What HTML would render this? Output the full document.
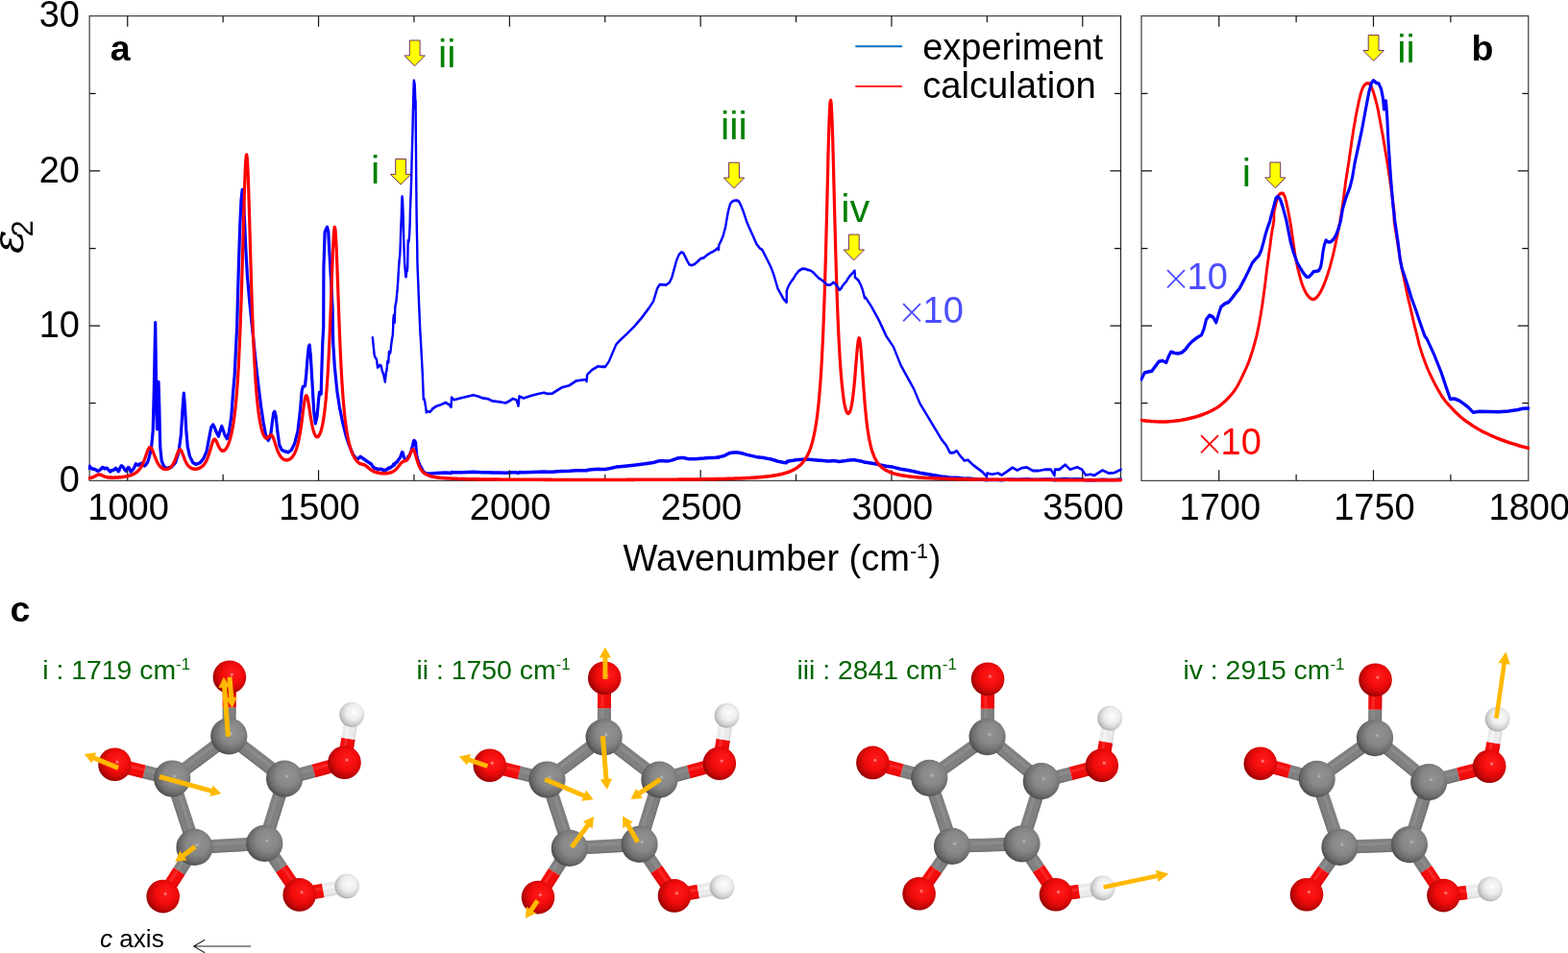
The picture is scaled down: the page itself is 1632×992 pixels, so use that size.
<!DOCTYPE html>
<html><head><meta charset="utf-8"><title>Figure</title>
<style>html,body{margin:0;padding:0;background:#fff}svg{display:block}</style></head>
<body>
<svg width="1632" height="992" viewBox="0 0 1632 992" font-family="'Liberation Sans', sans-serif">
<rect width="1632" height="992" fill="#ffffff"/>
<path d="M1166.45 16.70H93.15V500.35H1166.45" fill="none" stroke="#444444" stroke-width="1.25"/><path d="M1166.55 16.10V500.95" fill="none" stroke="#1a1a1a" stroke-width="1.05"/>
<path d="M1590.80 16.70H1188.00V500.35H1590.80" fill="none" stroke="#444444" stroke-width="1.25"/><path d="M1590.80 16.10V500.95" fill="none" stroke="#2a2a2a" stroke-width="1.1"/>
<path d="M1268.75 500.35v-11M1268.75 16.70v11M1429.50 500.35v-11M1429.50 16.70v11M1349.12 500.35v-6.5M1349.12 16.70v6.5M1509.88 500.35v-6.5M1509.88 16.70v6.5M1188.00 339.10h11M1590.80 339.10h-11M1188.00 177.95h11M1590.80 177.95h-11M1188.00 419.68h6.5M1590.80 419.68h-6.5M1188.00 258.53h6.5M1590.80 258.53h-6.5M1188.00 97.38h6.5M1590.80 97.38h-6.5" fill="none" stroke="#111" stroke-width="1.2"/>
<clipPath id="ca"><rect x="91.9" y="16.7" width="1075.9" height="485.7"/></clipPath>
<clipPath id="cb"><rect x="1186.7" y="16.7" width="405.4" height="485.7"/></clipPath>
<g clip-path="url(#ca)">
<path d="M91.3 443.56 L92.2 443.18 L93.4 441.14 L94.7 443.18 L96.3 443.56 L98.0 443.94 L100.1 444.70 L101.3 445.61 L102.6 445.45 L104.7 444.32 L105.9 442.80 L107.2 442.27 L108.8 443.56 L110.1 443.03 L111.3 443.03 L113.0 444.70 L114.7 446.36 L115.9 445.45 L116.8 445.08 L119.2 444.32 L120.5 443.03 L122.2 444.70 L123.0 446.06 L123.8 445.83 L125.1 442.42 L126.3 440.76 L128.0 441.67 L129.7 444.32 L130.9 445.61 L131.3 445.08 L133.4 442.27 L134.7 443.18 L135.9 446.36 L137.2 445.45 L138.8 443.94 L140.5 440.91 L141.3 439.02 L142.2 439.39 L143.8 440.30 L145.5 439.02 L147.2 438.48 L148.8 440.15 L150.5 440.91 L152.2 439.39 L153.8 437.12 L155.0 433.33 L157.5 424.24 L159.2 407.58 L160.3 369.70 L161.2 327.27 L161.7 305.30 L162.2 339.39 L162.8 384.85 L163.5 406.06 L164.3 384.85 L165.0 361.36 L165.8 384.85 L166.7 422.73 L168.3 436.36 L170.8 441.67 L173.3 443.18 L178.3 442.12 L182.5 437.88 L185.8 428.79 L188.3 412.12 L190.0 387.88 L191.3 371.97 L192.5 384.85 L193.7 406.06 L195.3 422.73 L197.5 431.82 L200.8 437.88 L204.2 439.39 L208.3 437.88 L211.7 434.09 L215.0 427.27 L217.5 415.15 L219.7 404.55 L221.7 401.82 L223.3 404.55 L225.3 409.09 L227.5 412.88 L229.2 407.58 L230.8 403.33 L232.5 407.58 L234.2 412.12 L236.3 415.15 L238.3 409.09 L240.8 393.94 L242.5 372.73 L244.2 354.55 L245.8 324.24 L246.7 309.09 L247.4 282.97 L248.6 246.32 L249.8 213.33 L251.0 189.51 L252.2 179.43 L253.4 189.51 L254.6 209.67 L255.8 235.32 L257.4 260.98 L259.5 282.97 L261.5 301.29 L266.7 346.97 L269.2 366.67 L271.7 384.85 L274.2 400.00 L276.7 412.12 L279.2 416.67 L281.7 412.12 L283.3 400.00 L284.7 390.91 L285.8 389.39 L287.2 393.94 L288.7 407.58 L290.8 421.21 L293.3 425.76 L296.7 427.27 L300.0 428.03 L303.3 425.76 L306.7 419.70 L310.0 407.58 L312.5 387.88 L314.2 369.70 L315.3 365.91 L317.5 365.15 L318.7 354.55 L320.0 339.39 L321.3 328.03 L322.2 326.52 L323.3 336.36 L325.0 362.12 L326.7 389.39 L328.3 400.76 L330.0 393.94 L331.7 377.27 L332.5 371.21 L334.2 372.73 L334.7 354.55 L335.8 324.24 L336.7 309.09 L336.9 253.65 L338.1 219.74 L339.3 217.00 L340.5 214.80 L341.7 218.83 L342.9 238.99 L344.5 264.64 L346.1 292.13 L346.7 324.24 L348.3 346.97 L350.8 369.70 L353.3 384.85 L356.7 400.00 L360.0 412.12 L363.3 421.21 L367.5 430.30 L371.7 434.85 L375.0 432.12 L378.3 434.09 L381.7 436.36 L386.7 439.39 L387.8 441.23 L388.7 442.02 L389.7 442.93 L390.8 443.16 L392.0 443.31 L393.0 444.07 L394.2 443.99 L395.3 443.84 L396.7 443.92 L397.5 444.30 L399.2 444.75 L400.8 445.43 L401.9 444.48 L402.4 444.41 L402.9 443.95 L403.3 443.50 L403.8 443.43 L404.3 443.61 L404.6 443.05 L404.9 442.59 L405.4 442.70 L405.8 442.75 L406.3 442.66 L406.7 442.36 L407.2 441.91 L407.7 441.57 L408.3 441.23 L408.8 441.00 L409.1 440.43 L409.4 439.52 L409.8 439.14 L410.3 439.30 L410.7 439.82 L411.0 439.07 L411.3 438.34 L411.8 438.05 L412.3 437.89 L412.8 437.48 L413.2 437.02 L413.7 436.61 L414.3 435.77 L414.8 435.00 L415.4 434.16 L415.8 433.77 L416.2 433.49 L416.5 432.99 L416.8 432.21 L417.1 431.32 L417.4 430.65 L417.6 430.20 L417.7 430.09 L418.0 429.07 L418.4 428.05 L418.6 427.89 L419.0 428.16 L419.3 428.84 L419.8 430.20 L420.0 431.10 L420.3 432.21 L420.7 433.21 L421.1 434.10 L421.6 434.72 L422.0 435.16 L422.3 435.50 L422.6 435.50 L422.9 435.27 L423.2 435.00 L423.6 434.96 L423.9 434.91 L424.2 434.55 L424.3 433.99 L424.5 433.10 L424.6 432.43 L424.8 432.04 L425.1 432.21 L425.4 432.19 L425.8 431.93 L426.1 431.54 L426.4 430.98 L426.7 430.20 L427.0 429.07 L427.5 427.93 L427.9 427.02 L428.2 426.11 L428.5 424.75 L429.0 423.16 L429.5 421.57 L429.9 419.75 L430.4 417.93 L430.7 417.14 L430.9 416.91 L431.3 417.14 L431.6 417.20 L431.9 417.70 L432.2 418.61 L432.3 419.64 L432.6 418.84 L432.7 420.43 L432.9 422.70 L433.2 426.11 L433.5 428.84 L433.7 430.20 L433.9 431.32 L434.2 432.43 L434.4 433.88 L434.6 434.66 L434.9 435.33 L435.4 436.33 L435.8 437.45 L436.4 438.67 L437.0 440.01 L437.6 441.11 L437.8 441.34 L438.7 442.82 L439.7 444.52 L440.3 445.89 L440.8 447.07 L441.4 447.02 L442.0 447.20 L442.6 447.52 L443.2 447.89 L443.8 448.32 L444.6 448.23 L445.9 448.25 L447.1 448.27 L448.3 448.20 L449.6 448.07 L450.2 447.95 L451.0 447.93 L453.8 447.75 L458.8 447.59 L463.8 447.39 L467.5 447.59 L469.5 447.82 L470.0 446.91 L472.5 447.14 L480.0 446.95 L487.5 446.80 L492.5 446.68 L497.5 446.80 L502.5 446.98 L507.5 447.02 L512.5 447.25 L520.0 447.32 L526.2 447.43 L530.0 447.25 L533.8 447.02 L537.5 447.14 L539.5 447.70 L540.5 446.80 L545.0 446.98 L552.5 446.75 L560.0 446.57 L566.2 446.45 L570.0 446.57 L575.0 446.52 L580.0 446.23 L585.0 445.95 L592.5 445.77 L600.0 445.32 L610.0 445.20 L610.5 445.39 L611.2 444.75 L616.2 444.30 L622.5 443.95 L626.2 444.00 L630.0 444.00 L633.8 443.50 L637.5 442.70 L641.2 441.91 L645.0 441.52 L652.5 440.89 L660.0 440.20 L667.5 439.41 L675.0 438.50 L680.0 437.82 L684.2 436.57 L686.7 436.22 L690.0 436.23 L693.3 436.27 L696.7 436.04 L699.2 435.58 L701.7 434.75 L704.2 433.92 L706.7 433.39 L709.2 433.16 L711.3 433.23 L713.3 433.61 L715.8 434.07 L717.5 434.34 L720.0 434.40 L723.3 434.27 L726.7 433.99 L729.2 433.77 L732.5 433.69 L735.8 433.43 L739.2 433.23 L742.5 433.08 L745.0 432.93 L746.7 432.78 L748.0 432.93 L748.3 432.48 L750.0 432.17 L752.5 431.64 L755.0 430.81 L756.7 429.90 L758.3 429.14 L760.0 428.61 L761.7 428.39 L764.2 428.28 L767.5 428.27 L769.2 428.39 L771.7 428.84 L774.2 429.45 L777.5 430.36 L780.8 431.04 L784.2 431.72 L787.5 432.40 L790.8 432.78 L793.3 432.93 L795.8 433.39 L799.2 433.99 L802.5 434.60 L805.0 435.20 L807.5 435.96 L809.7 436.64 L812.5 437.10 L815.8 437.63 L818.7 437.90 L818.8 436.80 L820.8 436.34 L823.3 435.96 L825.8 435.66 L828.3 435.28 L831.7 434.90 L835.0 434.72 L839.2 434.75 L840.0 434.82 L842.4 434.86 L844.8 434.95 L847.3 435.15 L849.7 435.39 L851.7 435.57 L854.1 435.72 L856.9 435.92 L859.4 436.12 L861.0 436.25 L862.6 436.27 L864.2 436.25 L865.8 436.14 L867.4 436.01 L869.0 436.12 L870.6 436.29 L872.3 436.51 L873.5 436.73 L874.3 436.69 L875.5 436.58 L877.1 436.33 L878.7 436.14 L880.7 435.96 L882.3 435.70 L885.2 435.34 L887.6 435.12 L889.5 434.91 L889.8 435.23 L890.0 435.56 L891.6 435.67 L893.6 435.85 L896.0 436.29 L897.7 436.69 L900.0 437.50 L901.2 437.48 L907.5 438.39 L915.0 439.64 L922.5 441.11 L930.0 442.14 L937.5 443.84 L945.0 445.09 L951.2 446.11 L957.5 447.48 L965.0 448.61 L972.5 449.75 L980.0 450.89 L985.0 451.45 L988.8 452.14 L992.5 452.14 L995.8 451.95 L998.8 452.36 L1003.8 452.89 L1007.5 452.82 L1012.5 453.27 L1017.5 453.61 L1022.5 453.95 L1027.0 454.41 L1027.5 454.07 L1032.5 454.18 L1038.8 454.07 L1042.5 454.25 L1047.5 453.95 L1053.8 453.55 L1058.8 453.80 L1063.8 453.57 L1068.8 453.52 L1075.0 453.84 L1081.2 453.84 L1087.5 453.73 L1093.8 453.73 L1097.5 454.30 L1098.0 453.73 L1102.5 453.73 L1108.8 453.27 L1113.8 453.73 L1121.2 453.50 L1126.2 453.73 L1130.0 454.25 L1135.0 454.18 L1138.8 454.30 L1147.5 453.80 L1153.8 454.07 L1160.0 454.02 L1166.8 453.73" fill="none" stroke="#0000ff" stroke-width="3.2" stroke-linejoin="round" stroke-linecap="round" transform="scale(1,1.100)" />
<path d="M132.75 500.35v-11M132.75 16.70v11M331.55 500.35v-11M331.55 16.70v11M530.35 500.35v-11M530.35 16.70v11M729.15 500.35v-11M729.15 16.70v11M927.95 500.35v-11M927.95 16.70v11M1126.75 500.35v-11M1126.75 16.70v11M232.15 500.35v-6.5M232.15 16.70v6.5M430.95 500.35v-6.5M430.95 16.70v6.5M629.75 500.35v-6.5M629.75 16.70v6.5M828.55 500.35v-6.5M828.55 16.70v6.5M1027.35 500.35v-6.5M1027.35 16.70v6.5M93.15 339.10h11M1166.45 339.10h-11M93.15 177.95h11M1166.45 177.95h-11M93.15 419.68h6.5M1166.45 419.68h-6.5M93.15 258.53h6.5M1166.45 258.53h-6.5M93.15 97.38h6.5M1166.45 97.38h-6.5" fill="none" stroke="#111" stroke-width="1.2"/>
<path d="M93.0 452.43 L93.4 452.36 L93.8 452.28 L94.2 452.20 L94.6 452.12 L95.0 452.02 L95.4 451.92 L95.8 451.81 L96.2 451.69 L96.6 451.56 L97.0 451.42 L97.4 451.28 L97.8 451.12 L98.2 450.95 L98.6 450.77 L99.0 450.59 L99.4 450.39 L99.7 450.19 L100.1 449.99 L100.5 449.80 L100.9 449.61 L101.3 449.44 L101.7 449.29 L102.1 449.16 L102.5 449.07 L102.9 449.02 L103.3 449.01 L103.7 449.04 L104.1 449.11 L104.5 449.21 L104.9 449.34 L105.3 449.49 L105.7 449.65 L106.1 449.82 L106.5 450.00 L106.9 450.17 L107.3 450.34 L107.7 450.50 L108.1 450.65 L108.5 450.79 L108.9 450.92 L109.3 451.04 L109.7 451.15 L110.1 451.25 L110.5 451.35 L110.9 451.43 L111.3 451.50 L111.7 451.57 L112.1 451.63 L112.5 451.68 L112.9 451.73 L113.3 451.77 L113.7 451.80 L114.1 451.83 L114.5 451.86 L114.9 451.88 L115.3 451.90 L115.7 451.92 L116.1 451.93 L116.4 451.94 L116.8 451.95 L117.2 451.95 L117.6 451.95 L118.0 451.95 L118.4 451.95 L118.8 451.94 L119.2 451.93 L119.6 451.92 L120.0 451.91 L120.4 451.90 L120.8 451.88 L121.2 451.86 L121.6 451.84 L122.0 451.82 L122.4 451.80 L122.8 451.78 L123.2 451.75 L123.6 451.72 L124.0 451.69 L124.4 451.66 L124.8 451.63 L125.2 451.60 L125.6 451.56 L126.0 451.52 L126.4 451.48 L126.8 451.44 L127.2 451.39 L127.6 451.35 L128.0 451.30 L128.4 451.25 L128.8 451.20 L129.2 451.14 L129.6 451.09 L130.0 451.03 L130.4 450.96 L130.8 450.90 L131.2 450.83 L131.6 450.76 L132.0 450.68 L132.4 450.61 L132.8 450.52 L133.1 450.44 L133.5 450.35 L133.9 450.26 L134.3 450.16 L134.7 450.06 L135.1 449.95 L135.5 449.84 L135.9 449.72 L136.3 449.59 L136.7 449.46 L137.1 449.33 L137.5 449.18 L137.9 449.03 L138.3 448.87 L138.7 448.71 L139.1 448.53 L139.5 448.34 L139.9 448.14 L140.3 447.94 L140.7 447.72 L141.1 447.48 L141.5 447.23 L141.9 446.97 L142.3 446.69 L142.7 446.40 L143.1 446.08 L143.5 445.75 L143.9 445.40 L144.3 445.02 L144.7 444.62 L145.1 444.19 L145.5 443.73 L145.9 443.24 L146.3 442.72 L146.7 442.17 L147.1 441.58 L147.5 440.95 L147.9 440.28 L148.3 439.57 L148.7 438.82 L149.1 438.02 L149.4 437.17 L149.8 436.29 L150.2 435.36 L150.6 434.39 L151.0 433.38 L151.4 432.35 L151.8 431.29 L152.2 430.23 L152.6 429.18 L153.0 428.15 L153.4 427.16 L153.8 426.24 L154.2 425.40 L154.6 424.68 L155.0 424.08 L155.4 423.63 L155.8 423.35 L156.2 423.24 L156.6 423.31 L157.0 423.55 L157.4 423.95 L157.8 424.50 L158.2 425.18 L158.6 425.96 L159.0 426.82 L159.4 427.75 L159.8 428.71 L160.2 429.69 L160.6 430.68 L161.0 431.66 L161.4 432.61 L161.8 433.53 L162.2 434.42 L162.6 435.26 L163.0 436.07 L163.4 436.82 L163.8 437.53 L164.2 438.19 L164.6 438.80 L165.0 439.38 L165.4 439.91 L165.8 440.39 L166.1 440.84 L166.5 441.26 L166.9 441.63 L167.3 441.98 L167.7 442.29 L168.1 442.57 L168.5 442.82 L168.9 443.05 L169.3 443.25 L169.7 443.42 L170.1 443.57 L170.5 443.70 L170.9 443.80 L171.3 443.89 L171.7 443.94 L172.1 443.98 L172.5 444.00 L172.9 443.99 L173.3 443.96 L173.7 443.92 L174.1 443.84 L174.5 443.75 L174.9 443.63 L175.3 443.48 L175.7 443.31 L176.1 443.12 L176.5 442.89 L176.9 442.64 L177.3 442.35 L177.7 442.03 L178.1 441.67 L178.5 441.27 L178.9 440.83 L179.3 440.35 L179.7 439.82 L180.1 439.25 L180.5 438.62 L180.9 437.94 L181.3 437.21 L181.7 436.42 L182.1 435.57 L182.4 434.68 L182.8 433.74 L183.2 432.77 L183.6 431.77 L184.0 430.76 L184.4 429.77 L184.8 428.81 L185.2 427.92 L185.6 427.12 L186.0 426.45 L186.4 425.93 L186.8 425.59 L187.2 425.44 L187.6 425.50 L188.0 425.76 L188.4 426.20 L188.8 426.80 L189.2 427.54 L189.6 428.38 L190.0 429.30 L190.4 430.27 L190.8 431.25 L191.2 432.23 L191.6 433.20 L192.0 434.13 L192.4 435.02 L192.8 435.86 L193.2 436.65 L193.6 437.38 L194.0 438.07 L194.4 438.70 L194.8 439.27 L195.2 439.81 L195.6 440.29 L196.0 440.73 L196.4 441.14 L196.8 441.50 L197.2 441.83 L197.6 442.13 L198.0 442.40 L198.4 442.63 L198.8 442.85 L199.1 443.03 L199.5 443.20 L199.9 443.34 L200.3 443.46 L200.7 443.57 L201.1 443.65 L201.5 443.72 L201.9 443.77 L202.3 443.80 L202.7 443.82 L203.1 443.83 L203.5 443.82 L203.9 443.79 L204.3 443.75 L204.7 443.70 L205.1 443.64 L205.5 443.55 L205.9 443.46 L206.3 443.35 L206.7 443.22 L207.1 443.08 L207.5 442.93 L207.9 442.76 L208.3 442.57 L208.7 442.36 L209.1 442.14 L209.5 441.89 L209.9 441.63 L210.3 441.34 L210.7 441.03 L211.1 440.70 L211.5 440.34 L211.9 439.95 L212.3 439.53 L212.7 439.07 L213.1 438.58 L213.5 438.06 L213.9 437.49 L214.3 436.88 L214.7 436.22 L215.1 435.52 L215.5 434.76 L215.8 433.94 L216.2 433.07 L216.6 432.13 L217.0 431.14 L217.4 430.08 L217.8 428.96 L218.2 427.79 L218.6 426.57 L219.0 425.32 L219.4 424.03 L219.8 422.75 L220.2 421.48 L220.6 420.26 L221.0 419.12 L221.4 418.10 L221.8 417.21 L222.2 416.51 L222.6 416.00 L223.0 415.70 L223.4 415.62 L223.8 415.76 L224.2 416.08 L224.6 416.58 L225.0 417.21 L225.4 417.94 L225.8 418.74 L226.2 419.58 L226.6 420.43 L227.0 421.26 L227.4 422.07 L227.8 422.82 L228.2 423.52 L228.6 424.15 L229.0 424.71 L229.4 425.20 L229.8 425.61 L230.2 425.95 L230.6 426.23 L231.0 426.43 L231.4 426.56 L231.8 426.63 L232.2 426.63 L232.5 426.57 L232.9 426.44 L233.3 426.26 L233.7 426.02 L234.1 425.72 L234.5 425.36 L234.9 424.94 L235.3 424.46 L235.7 423.93 L236.1 423.33 L236.5 422.67 L236.9 421.95 L237.3 421.16 L237.7 420.30 L238.1 419.36 L238.5 418.36 L238.9 417.27 L239.3 416.10 L239.7 414.84 L240.1 413.49 L240.5 412.04 L240.9 410.48 L241.3 408.80 L241.7 407.00 L242.1 405.07 L242.5 402.99 L242.9 400.76 L243.3 398.36 L243.7 395.77 L244.1 392.99 L244.5 390.00 L244.9 386.77 L245.3 383.29 L245.7 379.53 L246.1 375.48 L246.5 371.09 L246.9 366.36 L247.3 361.23 L247.7 355.69 L248.1 349.69 L248.5 343.20 L248.8 336.18 L249.2 328.61 L249.6 320.43 L250.0 311.63 L250.4 302.18 L250.8 292.07 L251.2 281.30 L251.6 269.89 L252.0 257.91 L252.4 245.42 L252.8 232.58 L253.2 219.55 L253.6 206.59 L254.0 193.98 L254.4 182.08 L254.8 171.27 L255.2 161.95 L255.6 154.52 L256.0 149.32 L256.4 146.59 L256.8 146.48 L257.2 149.00 L257.6 154.00 L258.0 161.24 L258.4 170.39 L258.8 181.07 L259.2 192.86 L259.6 205.37 L260.0 218.26 L260.4 231.23 L260.8 244.03 L261.2 256.48 L261.6 268.44 L262.0 279.81 L262.4 290.56 L262.8 300.64 L263.2 310.06 L263.6 318.82 L264.0 326.95 L264.4 334.49 L264.8 341.45 L265.2 347.89 L265.5 353.82 L265.9 359.30 L266.3 364.35 L266.7 369.01 L267.1 373.31 L267.5 377.27 L267.9 380.93 L268.3 384.30 L268.7 387.41 L269.1 390.28 L269.5 392.92 L269.9 395.36 L270.3 397.60 L270.7 399.66 L271.1 401.55 L271.5 403.29 L271.9 404.88 L272.3 406.33 L272.7 407.64 L273.1 408.83 L273.5 409.89 L273.9 410.84 L274.3 411.68 L274.7 412.40 L275.1 413.02 L275.5 413.53 L275.9 413.94 L276.3 414.25 L276.7 414.46 L277.1 414.58 L277.5 414.60 L277.9 414.53 L278.3 414.39 L278.7 414.16 L279.1 413.88 L279.5 413.54 L279.9 413.17 L280.3 412.80 L280.7 412.43 L281.1 412.11 L281.5 411.86 L281.9 411.71 L282.2 411.68 L282.6 411.79 L283.0 412.07 L283.4 412.51 L283.8 413.12 L284.2 413.88 L284.6 414.76 L285.0 415.76 L285.4 416.84 L285.8 417.97 L286.2 419.13 L286.6 420.30 L287.0 421.46 L287.4 422.58 L287.8 423.67 L288.2 424.71 L288.6 425.70 L289.0 426.63 L289.4 427.50 L289.8 428.31 L290.2 429.07 L290.6 429.77 L291.0 430.42 L291.4 431.01 L291.8 431.56 L292.2 432.06 L292.6 432.51 L293.0 432.93 L293.4 433.31 L293.8 433.65 L294.2 433.95 L294.6 434.22 L295.0 434.46 L295.4 434.67 L295.8 434.85 L296.2 435.00 L296.6 435.12 L297.0 435.22 L297.4 435.30 L297.8 435.34 L298.2 435.36 L298.5 435.36 L298.9 435.33 L299.3 435.28 L299.7 435.20 L300.1 435.10 L300.5 434.97 L300.9 434.82 L301.3 434.64 L301.7 434.43 L302.1 434.19 L302.5 433.92 L302.9 433.62 L303.3 433.29 L303.7 432.92 L304.1 432.51 L304.5 432.07 L304.9 431.58 L305.3 431.05 L305.7 430.47 L306.1 429.85 L306.5 429.16 L306.9 428.43 L307.3 427.62 L307.7 426.75 L308.1 425.81 L308.5 424.80 L308.9 423.69 L309.3 422.50 L309.7 421.22 L310.1 419.83 L310.5 418.33 L310.9 416.71 L311.3 414.97 L311.7 413.11 L312.1 411.11 L312.5 408.97 L312.9 406.70 L313.3 404.29 L313.7 401.77 L314.1 399.12 L314.5 396.39 L314.9 393.60 L315.2 390.77 L315.6 387.98 L316.0 385.26 L316.4 382.69 L316.8 380.34 L317.2 378.29 L317.6 376.60 L318.0 375.35 L318.4 374.56 L318.8 374.28 L319.2 374.51 L319.6 375.23 L320.0 376.39 L320.4 377.95 L320.8 379.82 L321.2 381.94 L321.6 384.23 L322.0 386.62 L322.4 389.04 L322.8 391.45 L323.2 393.81 L323.6 396.07 L324.0 398.21 L324.4 400.23 L324.8 402.09 L325.2 403.81 L325.6 405.38 L326.0 406.79 L326.4 408.06 L326.8 409.18 L327.2 410.15 L327.6 411.00 L328.0 411.70 L328.4 412.29 L328.8 412.74 L329.2 413.08 L329.6 413.30 L330.0 413.41 L330.4 413.41 L330.8 413.29 L331.2 413.07 L331.6 412.73 L331.9 412.29 L332.3 411.73 L332.7 411.06 L333.1 410.26 L333.5 409.35 L333.9 408.30 L334.3 407.12 L334.7 405.80 L335.1 404.34 L335.5 402.71 L335.9 400.91 L336.3 398.93 L336.7 396.76 L337.1 394.37 L337.5 391.76 L337.9 388.91 L338.3 385.79 L338.7 382.38 L339.1 378.66 L339.5 374.60 L339.9 370.18 L340.3 365.37 L340.7 360.13 L341.1 354.44 L341.5 348.28 L341.9 341.60 L342.3 334.41 L342.7 326.68 L343.1 318.41 L343.5 309.63 L343.9 300.37 L344.3 290.70 L344.7 280.73 L345.1 270.61 L345.5 260.53 L345.9 250.73 L346.3 241.51 L346.7 233.17 L347.1 226.05 L347.5 220.47 L347.9 216.70 L348.2 214.93 L348.6 215.26 L349.0 217.69 L349.4 222.09 L349.8 228.24 L350.2 235.85 L350.6 244.60 L351.0 254.17 L351.4 264.23 L351.8 274.52 L352.2 284.81 L352.6 294.90 L353.0 304.67 L353.4 314.01 L353.8 322.87 L354.2 331.21 L354.6 339.02 L355.0 346.30 L355.4 353.07 L355.8 359.34 L356.2 365.15 L356.6 370.52 L357.0 375.48 L357.4 380.06 L357.8 384.30 L358.2 388.21 L358.6 391.83 L359.0 395.19 L359.4 398.29 L359.8 401.16 L360.2 403.83 L360.6 406.31 L361.0 408.61 L361.4 410.75 L361.8 412.75 L362.2 414.61 L362.6 416.34 L363.0 417.96 L363.4 419.48 L363.8 420.90 L364.2 422.23 L364.6 423.47 L364.9 424.64 L365.3 425.74 L365.7 426.77 L366.1 427.73 L366.5 428.64 L366.9 429.50 L367.3 430.31 L367.7 431.06 L368.1 431.78 L368.5 432.45 L368.9 433.08 L369.3 433.67 L369.7 434.22 L370.1 434.74 L370.5 435.23 L370.9 435.69 L371.3 436.12 L371.7 436.51 L372.1 436.88 L372.5 437.22 L372.9 437.53 L373.3 437.82 L373.7 438.08 L374.1 438.31 L374.5 438.52 L374.9 438.71 L375.3 438.87 L375.7 439.01 L376.1 439.14 L376.5 439.24 L376.9 439.34 L377.3 439.43 L377.7 439.51 L378.1 439.60 L378.5 439.69 L378.9 439.80 L379.3 439.93 L379.7 440.08 L380.1 440.27 L380.5 440.48 L380.9 440.71 L381.2 440.98 L381.6 441.27 L382.0 441.57 L382.4 441.88 L382.8 442.20 L383.2 442.53 L383.6 442.85 L384.0 443.16 L384.4 443.47 L384.8 443.76 L385.2 444.04 L385.6 444.31 L386.0 444.56 L386.4 444.81 L386.8 445.03 L387.2 445.25 L387.6 445.45 L388.0 445.64 L388.4 445.82 L388.8 445.99 L389.2 446.16 L389.6 446.31 L390.0 446.45 L390.4 446.58 L390.8 446.71 L391.2 446.82 L391.6 446.94 L392.0 447.04 L392.4 447.14 L392.8 447.23 L393.2 447.32 L393.6 447.40 L394.0 447.47 L394.4 447.54 L394.8 447.60 L395.2 447.66 L395.6 447.72 L396.0 447.77 L396.4 447.81 L396.8 447.85 L397.2 447.89 L397.6 447.92 L397.9 447.95 L398.3 447.97 L398.7 447.99 L399.1 448.00 L399.5 448.01 L399.9 448.01 L400.3 448.01 L400.7 448.00 L401.1 447.99 L401.5 447.97 L401.9 447.95 L402.3 447.92 L402.7 447.88 L403.1 447.84 L403.5 447.79 L403.9 447.74 L404.3 447.67 L404.7 447.60 L405.1 447.52 L405.5 447.44 L405.9 447.34 L406.3 447.23 L406.7 447.12 L407.1 446.99 L407.5 446.85 L407.9 446.70 L408.3 446.53 L408.7 446.35 L409.1 446.16 L409.5 445.95 L409.9 445.72 L410.3 445.47 L410.7 445.21 L411.1 444.93 L411.5 444.63 L411.9 444.30 L412.3 443.96 L412.7 443.59 L413.1 443.20 L413.5 442.80 L413.9 442.37 L414.3 441.93 L414.6 441.47 L415.0 441.00 L415.4 440.53 L415.8 440.05 L416.2 439.58 L416.6 439.13 L417.0 438.69 L417.4 438.28 L417.8 437.91 L418.2 437.57 L418.6 437.27 L419.0 437.02 L419.4 436.81 L419.8 436.63 L420.2 436.49 L420.6 436.37 L421.0 436.26 L421.4 436.15 L421.8 436.03 L422.2 435.89 L422.6 435.72 L423.0 435.50 L423.4 435.22 L423.8 434.89 L424.2 434.48 L424.6 434.00 L425.0 433.44 L425.4 432.80 L425.8 432.08 L426.2 431.29 L426.6 430.44 L427.0 429.56 L427.4 428.67 L427.8 427.80 L428.2 426.99 L428.6 426.28 L429.0 425.73 L429.4 425.38 L429.8 425.25 L430.2 425.37 L430.6 425.75 L430.9 426.36 L431.3 427.18 L431.7 428.18 L432.1 429.31 L432.5 430.52 L432.9 431.78 L433.3 433.05 L433.7 434.30 L434.1 435.51 L434.5 436.67 L434.9 437.76 L435.3 438.79 L435.7 439.74 L436.1 440.63 L436.5 441.44 L436.9 442.20 L437.3 442.90 L437.7 443.54 L438.1 444.13 L438.5 444.67 L438.9 445.17 L439.3 445.63 L439.7 446.06 L440.1 446.45 L440.5 446.81 L440.9 447.15 L441.3 447.46 L441.7 447.75 L442.1 448.02 L442.5 448.27 L442.9 448.51 L443.3 448.73 L443.7 448.93 L444.1 449.12 L444.5 449.30 L444.9 449.47 L445.3 449.63 L445.7 449.78 L446.1 449.92 L446.5 450.06 L446.9 450.18 L447.3 450.30 L447.6 450.42 L448.0 450.53 L448.4 450.63 L448.8 450.72 L449.2 450.82 L449.6 450.90 L450.0 450.99 L450.4 451.07 L450.8 451.14 L451.2 451.22 L451.6 451.29 L452.0 451.35 L452.4 451.42 L452.8 451.48 L453.2 451.54 L453.6 451.60 L454.0 451.65 L454.4 451.70 L454.8 451.75 L455.2 451.80 L455.6 451.85 L456.0 451.89 L456.4 451.94 L456.8 451.98 L457.2 452.02 L457.6 452.06 L458.0 452.10 L458.4 452.13 L458.8 452.17 L459.2 452.20 L459.6 452.24 L460.0 452.27 L460.4 452.30 L460.8 452.33 L461.2 452.36 L461.6 452.39 L462.0 452.42 L462.4 452.45 L462.8 452.47 L463.2 452.50 L463.6 452.52 L464.0 452.55 L464.3 452.57 L464.7 452.59 L465.1 452.62 L465.5 452.64 L465.9 452.66 L466.3 452.68 L466.7 452.70 L467.1 452.72 L467.5 452.74 L467.9 452.76 L468.3 452.78 L468.7 452.80 L469.1 452.81 L469.5 452.83 L469.9 452.85 L470.3 452.87 L470.7 452.88 L471.1 452.90 L471.5 452.91 L471.9 452.93 L472.3 452.94 L472.7 452.96 L473.1 452.97 L473.5 452.99 L473.9 453.00 L474.3 453.01 L474.7 453.03 L475.1 453.04 L475.5 453.05 L475.9 453.07 L476.3 453.08 L476.7 453.09 L477.1 453.10 L477.5 453.11 L477.9 453.13 L478.3 453.14 L478.7 453.15 L479.1 453.16 L479.5 453.17 L479.9 453.18 L480.3 453.19 L480.7 453.20 L481.0 453.21 L481.4 453.22 L481.8 453.23 L482.2 453.24 L482.6 453.25 L483.0 453.26 L483.4 453.27 L483.8 453.28 L484.2 453.29 L484.6 453.29 L485.0 453.30 L485.4 453.31 L485.8 453.32 L486.2 453.33 L486.6 453.34 L487.0 453.34 L487.4 453.35 L487.8 453.36 L488.2 453.37 L488.6 453.37 L489.0 453.38 L489.4 453.39 L489.8 453.40 L490.2 453.40 L490.6 453.41 L491.0 453.42 L491.4 453.42 L491.8 453.43 L492.2 453.44 L492.6 453.44 L493.0 453.45 L493.4 453.46 L493.8 453.46 L494.2 453.47 L494.6 453.48 L495.0 453.48 L495.4 453.49 L495.8 453.49 L496.2 453.50 L496.6 453.51 L497.0 453.51 L497.3 453.52 L497.7 453.52 L498.1 453.53 L498.5 453.53 L498.9 453.54 L499.3 453.54 L499.7 453.55 L500.1 453.55 L500.5 453.56 L500.9 453.56 L501.3 453.57 L501.7 453.57 L502.1 453.58 L502.5 453.58 L502.9 453.59 L503.3 453.59 L503.7 453.60 L504.1 453.60 L504.5 453.61 L504.9 453.61 L505.3 453.62 L505.7 453.62 L506.1 453.62 L506.5 453.63 L506.9 453.63 L507.3 453.64 L507.7 453.64 L508.1 453.65 L508.5 453.65 L508.9 453.65 L509.3 453.66 L509.7 453.66 L510.1 453.67 L510.5 453.67 L510.9 453.67 L511.3 453.68 L511.7 453.68 L512.1 453.69 L512.5 453.69 L512.9 453.69 L513.3 453.70 L513.7 453.70 L514.0 453.70 L514.4 453.71 L514.8 453.71 L515.2 453.71 L515.6 453.72 L516.0 453.72 L516.4 453.72 L516.8 453.73 L517.2 453.73 L517.6 453.73 L518.0 453.74 L518.4 453.74 L518.8 453.74 L519.2 453.75 L519.6 453.75 L520.0 453.75 L520.4 453.76 L520.8 453.76 L521.2 453.76 L521.6 453.76 L522.0 453.77 L522.4 453.77 L522.8 453.77 L523.2 453.78 L523.6 453.78 L524.0 453.78 L524.4 453.78 L524.8 453.79 L525.2 453.79 L525.6 453.79 L526.0 453.79 L526.4 453.80 L526.8 453.80 L527.2 453.80 L527.6 453.80 L528.0 453.81 L528.4 453.81 L528.8 453.81 L529.2 453.81 L529.6 453.82 L530.0 453.82 L530.4 453.82 L530.7 453.82 L531.1 453.83 L531.5 453.83 L531.9 453.83 L532.3 453.83 L532.7 453.84 L533.1 453.84 L533.5 453.84 L533.9 453.84 L534.3 453.84 L534.7 453.85 L535.1 453.85 L535.5 453.85 L535.9 453.85 L536.3 453.86 L536.7 453.86 L537.1 453.86 L537.5 453.86 L537.9 453.86 L538.3 453.87 L538.7 453.87 L539.1 453.87 L539.5 453.87 L539.9 453.87 L540.3 453.87 L540.7 453.88 L541.1 453.88 L541.5 453.88 L541.9 453.88 L542.3 453.88 L542.7 453.89 L543.1 453.89 L543.5 453.89 L543.9 453.89 L544.3 453.89 L544.7 453.89 L545.1 453.90 L545.5 453.90 L545.9 453.90 L546.3 453.90 L546.7 453.90 L547.0 453.90 L547.4 453.91 L547.8 453.91 L548.2 453.91 L548.6 453.91 L549.0 453.91 L549.4 453.91 L549.8 453.92 L550.2 453.92 L550.6 453.92 L551.0 453.92 L551.4 453.92 L551.8 453.92 L552.2 453.92 L552.6 453.93 L553.0 453.93 L553.4 453.93 L553.8 453.93 L554.2 453.93 L554.6 453.93 L555.0 453.93 L555.4 453.94 L555.8 453.94 L556.2 453.94 L556.6 453.94 L557.0 453.94 L557.4 453.94 L557.8 453.94 L558.2 453.94 L558.6 453.95 L559.0 453.95 L559.4 453.95 L559.8 453.95 L560.2 453.95 L560.6 453.95 L561.0 453.95 L561.4 453.95 L561.8 453.95 L562.2 453.96 L562.6 453.96 L563.0 453.96 L563.4 453.96 L563.7 453.96 L564.1 453.96 L564.5 453.96 L564.9 453.96 L565.3 453.96 L565.7 453.97 L566.1 453.97 L566.5 453.97 L566.9 453.97 L567.3 453.97 L567.7 453.97 L568.1 453.97 L568.5 453.97 L568.9 453.97 L569.3 453.97 L569.7 453.98 L570.1 453.98 L570.5 453.98 L570.9 453.98 L571.3 453.98 L571.7 453.98 L572.1 453.98 L572.5 453.98 L572.9 453.98 L573.3 453.98 L573.7 453.98 L574.1 453.98 L574.5 453.99 L574.9 453.99 L575.3 453.99 L575.7 453.99 L576.1 453.99 L576.5 453.99 L576.9 453.99 L577.3 453.99 L577.7 453.99 L578.1 453.99 L578.5 453.99 L578.9 453.99 L579.3 453.99 L579.7 454.00 L580.0 454.00 L580.4 454.00 L580.8 454.00 L581.2 454.00 L581.6 454.00 L582.0 454.00 L582.4 454.00 L582.8 454.00 L583.2 454.00 L583.6 454.00 L584.0 454.00 L584.4 454.00 L584.8 454.00 L585.2 454.00 L585.6 454.00 L586.0 454.00 L586.4 454.01 L586.8 454.01 L587.2 454.01 L587.6 454.01 L588.0 454.01 L588.4 454.01 L588.8 454.01 L589.2 454.01 L589.6 454.01 L590.0 454.01 L590.4 454.01 L590.8 454.01 L591.2 454.01 L591.6 454.01 L592.0 454.01 L592.4 454.01 L592.8 454.01 L593.2 454.01 L593.6 454.01 L594.0 454.01 L594.4 454.01 L594.8 454.01 L595.2 454.02 L595.6 454.02 L596.0 454.02 L596.4 454.02 L596.7 454.02 L597.1 454.02 L597.5 454.02 L597.9 454.02 L598.3 454.02 L598.7 454.02 L599.1 454.02 L599.5 454.02 L599.9 454.02 L600.3 454.02 L600.7 454.02 L601.1 454.02 L601.5 454.02 L601.9 454.02 L602.3 454.02 L602.7 454.02 L603.1 454.02 L603.5 454.02 L603.9 454.02 L604.3 454.02 L604.7 454.02 L605.1 454.02 L605.5 454.02 L605.9 454.02 L606.3 454.02 L606.7 454.02 L607.1 454.02 L607.5 454.02 L607.9 454.02 L608.3 454.02 L608.7 454.02 L609.1 454.02 L609.5 454.02 L609.9 454.02 L610.3 454.02 L610.7 454.02 L611.1 454.02 L611.5 454.02 L611.9 454.02 L612.3 454.02 L612.7 454.02 L613.1 454.02 L613.4 454.02 L613.8 454.02 L614.2 454.02 L614.6 454.02 L615.0 454.02 L615.4 454.02 L615.8 454.02 L616.2 454.02 L616.6 454.02 L617.0 454.02 L617.4 454.02 L617.8 454.02 L618.2 454.02 L618.6 454.02 L619.0 454.02 L619.4 454.02 L619.8 454.02 L620.2 454.02 L620.6 454.02 L621.0 454.02 L621.4 454.02 L621.8 454.02 L622.2 454.02 L622.6 454.02 L623.0 454.02 L623.4 454.02 L623.8 454.02 L624.2 454.02 L624.6 454.02 L625.0 454.02 L625.4 454.02 L625.8 454.02 L626.2 454.02 L626.6 454.02 L627.0 454.02 L627.4 454.02 L627.8 454.02 L628.2 454.02 L628.6 454.02 L629.0 454.02 L629.4 454.02 L629.8 454.02 L630.1 454.02 L630.5 454.02 L630.9 454.01 L631.3 454.01 L631.7 454.01 L632.1 454.01 L632.5 454.01 L632.9 454.01 L633.3 454.01 L633.7 454.01 L634.1 454.01 L634.5 454.01 L634.9 454.01 L635.3 454.01 L635.7 454.01 L636.1 454.01 L636.5 454.01 L636.9 454.01 L637.3 454.01 L637.7 454.01 L638.1 454.01 L638.5 454.01 L638.9 454.01 L639.3 454.01 L639.7 454.00 L640.1 454.00 L640.5 454.00 L640.9 454.00 L641.3 454.00 L641.7 454.00 L642.1 454.00 L642.5 454.00 L642.9 454.00 L643.3 454.00 L643.7 454.00 L644.1 454.00 L644.5 454.00 L644.9 454.00 L645.3 454.00 L645.7 454.00 L646.1 454.00 L646.4 453.99 L646.8 453.99 L647.2 453.99 L647.6 453.99 L648.0 453.99 L648.4 453.99 L648.8 453.99 L649.2 453.99 L649.6 453.99 L650.0 453.99 L650.4 453.99 L650.8 453.99 L651.2 453.99 L651.6 453.98 L652.0 453.98 L652.4 453.98 L652.8 453.98 L653.2 453.98 L653.6 453.98 L654.0 453.98 L654.4 453.98 L654.8 453.98 L655.2 453.98 L655.6 453.98 L656.0 453.98 L656.4 453.97 L656.8 453.97 L657.2 453.97 L657.6 453.97 L658.0 453.97 L658.4 453.97 L658.8 453.97 L659.2 453.97 L659.6 453.97 L660.0 453.97 L660.4 453.96 L660.8 453.96 L661.2 453.96 L661.6 453.96 L662.0 453.96 L662.4 453.96 L662.8 453.96 L663.1 453.96 L663.5 453.96 L663.9 453.95 L664.3 453.95 L664.7 453.95 L665.1 453.95 L665.5 453.95 L665.9 453.95 L666.3 453.95 L666.7 453.95 L667.1 453.95 L667.5 453.94 L667.9 453.94 L668.3 453.94 L668.7 453.94 L669.1 453.94 L669.5 453.94 L669.9 453.94 L670.3 453.94 L670.7 453.93 L671.1 453.93 L671.5 453.93 L671.9 453.93 L672.3 453.93 L672.7 453.93 L673.1 453.93 L673.5 453.92 L673.9 453.92 L674.3 453.92 L674.7 453.92 L675.1 453.92 L675.5 453.92 L675.9 453.92 L676.3 453.91 L676.7 453.91 L677.1 453.91 L677.5 453.91 L677.9 453.91 L678.3 453.91 L678.7 453.90 L679.1 453.90 L679.5 453.90 L679.8 453.90 L680.2 453.90 L680.6 453.90 L681.0 453.89 L681.4 453.89 L681.8 453.89 L682.2 453.89 L682.6 453.89 L683.0 453.89 L683.4 453.88 L683.8 453.88 L684.2 453.88 L684.6 453.88 L685.0 453.88 L685.4 453.87 L685.8 453.87 L686.2 453.87 L686.6 453.87 L687.0 453.87 L687.4 453.87 L687.8 453.86 L688.2 453.86 L688.6 453.86 L689.0 453.86 L689.4 453.86 L689.8 453.85 L690.2 453.85 L690.6 453.85 L691.0 453.85 L691.4 453.84 L691.8 453.84 L692.2 453.84 L692.6 453.84 L693.0 453.84 L693.4 453.83 L693.8 453.83 L694.2 453.83 L694.6 453.83 L695.0 453.82 L695.4 453.82 L695.8 453.82 L696.1 453.82 L696.5 453.82 L696.9 453.81 L697.3 453.81 L697.7 453.81 L698.1 453.81 L698.5 453.80 L698.9 453.80 L699.3 453.80 L699.7 453.80 L700.1 453.79 L700.5 453.79 L700.9 453.79 L701.3 453.79 L701.7 453.78 L702.1 453.78 L702.5 453.78 L702.9 453.77 L703.3 453.77 L703.7 453.77 L704.1 453.77 L704.5 453.76 L704.9 453.76 L705.3 453.76 L705.7 453.76 L706.1 453.75 L706.5 453.75 L706.9 453.75 L707.3 453.74 L707.7 453.74 L708.1 453.74 L708.5 453.73 L708.9 453.73 L709.3 453.73 L709.7 453.72 L710.1 453.72 L710.5 453.72 L710.9 453.72 L711.3 453.71 L711.7 453.71 L712.1 453.71 L712.5 453.70 L712.8 453.70 L713.2 453.70 L713.6 453.69 L714.0 453.69 L714.4 453.69 L714.8 453.68 L715.2 453.68 L715.6 453.67 L716.0 453.67 L716.4 453.67 L716.8 453.66 L717.2 453.66 L717.6 453.66 L718.0 453.65 L718.4 453.65 L718.8 453.64 L719.2 453.64 L719.6 453.64 L720.0 453.63 L720.4 453.63 L720.8 453.62 L721.2 453.62 L721.6 453.62 L722.0 453.61 L722.4 453.61 L722.8 453.60 L723.2 453.60 L723.6 453.60 L724.0 453.59 L724.4 453.59 L724.8 453.58 L725.2 453.58 L725.6 453.57 L726.0 453.57 L726.4 453.56 L726.8 453.56 L727.2 453.56 L727.6 453.55 L728.0 453.55 L728.4 453.54 L728.8 453.54 L729.1 453.53 L729.5 453.53 L729.9 453.52 L730.3 453.52 L730.7 453.51 L731.1 453.51 L731.5 453.50 L731.9 453.50 L732.3 453.49 L732.7 453.49 L733.1 453.48 L733.5 453.48 L733.9 453.47 L734.3 453.46 L734.7 453.46 L735.1 453.45 L735.5 453.45 L735.9 453.44 L736.3 453.44 L736.7 453.43 L737.1 453.42 L737.5 453.42 L737.9 453.41 L738.3 453.41 L738.7 453.40 L739.1 453.39 L739.5 453.39 L739.9 453.38 L740.3 453.38 L740.7 453.37 L741.1 453.36 L741.5 453.36 L741.9 453.35 L742.3 453.34 L742.7 453.34 L743.1 453.33 L743.5 453.32 L743.9 453.32 L744.3 453.31 L744.7 453.30 L745.1 453.29 L745.5 453.29 L745.8 453.28 L746.2 453.27 L746.6 453.26 L747.0 453.26 L747.4 453.25 L747.8 453.24 L748.2 453.23 L748.6 453.23 L749.0 453.22 L749.4 453.21 L749.8 453.20 L750.2 453.19 L750.6 453.19 L751.0 453.18 L751.4 453.17 L751.8 453.16 L752.2 453.15 L752.6 453.14 L753.0 453.13 L753.4 453.13 L753.8 453.12 L754.2 453.11 L754.6 453.10 L755.0 453.09 L755.4 453.08 L755.8 453.07 L756.2 453.06 L756.6 453.05 L757.0 453.04 L757.4 453.03 L757.8 453.02 L758.2 453.01 L758.6 453.00 L759.0 452.99 L759.4 452.98 L759.8 452.97 L760.2 452.96 L760.6 452.95 L761.0 452.94 L761.4 452.93 L761.8 452.91 L762.2 452.90 L762.5 452.89 L762.9 452.88 L763.3 452.87 L763.7 452.86 L764.1 452.84 L764.5 452.83 L764.9 452.82 L765.3 452.81 L765.7 452.80 L766.1 452.78 L766.5 452.77 L766.9 452.76 L767.3 452.74 L767.7 452.73 L768.1 452.72 L768.5 452.70 L768.9 452.69 L769.3 452.67 L769.7 452.66 L770.1 452.65 L770.5 452.63 L770.9 452.62 L771.3 452.60 L771.7 452.59 L772.1 452.57 L772.5 452.56 L772.9 452.54 L773.3 452.52 L773.7 452.51 L774.1 452.49 L774.5 452.48 L774.9 452.46 L775.3 452.44 L775.7 452.42 L776.1 452.41 L776.5 452.39 L776.9 452.37 L777.3 452.35 L777.7 452.33 L778.1 452.32 L778.5 452.30 L778.9 452.28 L779.2 452.26 L779.6 452.24 L780.0 452.22 L780.4 452.20 L780.8 452.18 L781.2 452.16 L781.6 452.14 L782.0 452.11 L782.4 452.09 L782.8 452.07 L783.2 452.05 L783.6 452.03 L784.0 452.00 L784.4 451.98 L784.8 451.96 L785.2 451.93 L785.6 451.91 L786.0 451.88 L786.4 451.86 L786.8 451.83 L787.2 451.81 L787.6 451.78 L788.0 451.75 L788.4 451.73 L788.8 451.70 L789.2 451.67 L789.6 451.64 L790.0 451.61 L790.4 451.59 L790.8 451.56 L791.2 451.53 L791.6 451.50 L792.0 451.46 L792.4 451.43 L792.8 451.40 L793.2 451.37 L793.6 451.34 L794.0 451.30 L794.4 451.27 L794.8 451.23 L795.2 451.20 L795.5 451.16 L795.9 451.12 L796.3 451.09 L796.7 451.05 L797.1 451.01 L797.5 450.97 L797.9 450.93 L798.3 450.89 L798.7 450.85 L799.1 450.81 L799.5 450.77 L799.9 450.72 L800.3 450.68 L800.7 450.63 L801.1 450.59 L801.5 450.54 L801.9 450.49 L802.3 450.45 L802.7 450.40 L803.1 450.35 L803.5 450.29 L803.9 450.24 L804.3 450.19 L804.7 450.14 L805.1 450.08 L805.5 450.02 L805.9 449.97 L806.3 449.91 L806.7 449.85 L807.1 449.79 L807.5 449.73 L807.9 449.66 L808.3 449.60 L808.7 449.53 L809.1 449.46 L809.5 449.40 L809.9 449.33 L810.3 449.25 L810.7 449.18 L811.1 449.11 L811.5 449.03 L811.9 448.95 L812.2 448.87 L812.6 448.79 L813.0 448.71 L813.4 448.62 L813.8 448.54 L814.2 448.45 L814.6 448.36 L815.0 448.26 L815.4 448.17 L815.8 448.07 L816.2 447.97 L816.6 447.87 L817.0 447.76 L817.4 447.66 L817.8 447.55 L818.2 447.43 L818.6 447.32 L819.0 447.20 L819.4 447.08 L819.8 446.96 L820.2 446.83 L820.6 446.70 L821.0 446.56 L821.4 446.43 L821.8 446.28 L822.2 446.14 L822.6 445.99 L823.0 445.84 L823.4 445.68 L823.8 445.52 L824.2 445.35 L824.6 445.18 L825.0 445.00 L825.4 444.82 L825.8 444.64 L826.2 444.45 L826.6 444.25 L827.0 444.05 L827.4 443.84 L827.8 443.62 L828.2 443.40 L828.6 443.17 L828.9 442.93 L829.3 442.69 L829.7 442.43 L830.1 442.17 L830.5 441.90 L830.9 441.63 L831.3 441.34 L831.7 441.04 L832.1 440.73 L832.5 440.42 L832.9 440.09 L833.3 439.75 L833.7 439.39 L834.1 439.03 L834.5 438.65 L834.9 438.25 L835.3 437.84 L835.7 437.42 L836.1 436.98 L836.5 436.52 L836.9 436.04 L837.3 435.54 L837.7 435.03 L838.1 434.49 L838.5 433.93 L838.9 433.34 L839.3 432.73 L839.7 432.10 L840.1 431.43 L840.5 430.74 L840.9 430.01 L841.3 429.25 L841.7 428.45 L842.1 427.62 L842.5 426.75 L842.9 425.83 L843.3 424.87 L843.7 423.85 L844.1 422.79 L844.5 421.67 L844.9 420.49 L845.2 419.25 L845.6 417.94 L846.0 416.56 L846.4 415.09 L846.8 413.55 L847.2 411.91 L847.6 410.18 L848.0 408.34 L848.4 406.39 L848.8 404.32 L849.2 402.12 L849.6 399.77 L850.0 397.28 L850.4 394.61 L850.8 391.77 L851.2 388.72 L851.6 385.47 L852.0 381.99 L852.4 378.25 L852.8 374.25 L853.2 369.95 L853.6 365.32 L854.0 360.35 L854.4 354.99 L854.8 349.23 L855.2 343.02 L855.6 336.32 L856.0 329.11 L856.4 321.34 L856.8 312.96 L857.2 303.96 L857.6 294.28 L858.0 283.91 L858.4 272.82 L858.8 261.01 L859.2 248.49 L859.6 235.29 L860.0 221.48 L860.4 207.18 L860.8 192.53 L861.2 177.75 L861.6 163.09 L861.9 148.89 L862.3 135.52 L862.7 123.40 L863.1 112.94 L863.5 104.56 L863.9 98.62 L864.3 95.37 L864.7 94.98 L865.1 97.45 L865.5 102.65 L865.9 110.34 L866.3 120.19 L866.7 131.78 L867.1 144.69 L867.5 158.50 L867.9 172.84 L868.3 187.35 L868.7 201.78 L869.1 215.88 L869.5 229.51 L869.9 242.54 L870.3 254.90 L870.7 266.55 L871.1 277.46 L871.5 287.65 L871.9 297.12 L872.3 305.91 L872.7 314.04 L873.1 321.56 L873.5 328.50 L873.9 334.89 L874.3 340.78 L874.7 346.20 L875.1 351.17 L875.5 355.75 L875.9 359.94 L876.3 363.79 L876.7 367.30 L877.1 370.52 L877.5 373.44 L877.9 376.10 L878.2 378.51 L878.6 380.68 L879.0 382.62 L879.4 384.35 L879.8 385.88 L880.2 387.20 L880.6 388.33 L881.0 389.28 L881.4 390.04 L881.8 390.62 L882.2 391.01 L882.6 391.23 L883.0 391.26 L883.4 391.10 L883.8 390.75 L884.2 390.20 L884.6 389.45 L885.0 388.49 L885.4 387.31 L885.8 385.89 L886.2 384.23 L886.6 382.33 L887.0 380.15 L887.4 377.71 L887.8 374.98 L888.2 371.96 L888.6 368.66 L889.0 365.07 L889.4 361.21 L889.8 357.11 L890.2 352.80 L890.6 348.34 L891.0 343.81 L891.4 339.30 L891.8 334.93 L892.2 330.84 L892.6 327.19 L893.0 324.13 L893.4 321.80 L893.8 320.33 L894.2 319.82 L894.6 320.30 L894.9 321.79 L895.3 324.21 L895.7 327.48 L896.1 331.45 L896.5 335.99 L896.9 340.94 L897.3 346.15 L897.7 351.49 L898.1 356.84 L898.5 362.12 L898.9 367.24 L899.3 372.18 L899.7 376.88 L900.1 381.33 L900.5 385.51 L900.9 389.44 L901.3 393.11 L901.7 396.53 L902.1 399.71 L902.5 402.67 L902.9 405.42 L903.3 407.97 L903.7 410.35 L904.1 412.55 L904.5 414.60 L904.9 416.51 L905.3 418.28 L905.7 419.94 L906.1 421.48 L906.5 422.92 L906.9 424.27 L907.3 425.53 L907.7 426.71 L908.1 427.82 L908.5 428.86 L908.9 429.84 L909.3 430.76 L909.7 431.63 L910.1 432.45 L910.5 433.22 L910.9 433.95 L911.3 434.64 L911.6 435.30 L912.0 435.92 L912.4 436.51 L912.8 437.07 L913.2 437.60 L913.6 438.10 L914.0 438.59 L914.4 439.05 L914.8 439.48 L915.2 439.90 L915.6 440.30 L916.0 440.68 L916.4 441.05 L916.8 441.40 L917.2 441.74 L917.6 442.06 L918.0 442.37 L918.4 442.67 L918.8 442.95 L919.2 443.22 L919.6 443.49 L920.0 443.74 L920.4 443.99 L920.8 444.22 L921.2 444.45 L921.6 444.67 L922.0 444.88 L922.4 445.08 L922.8 445.28 L923.2 445.47 L923.6 445.66 L924.0 445.83 L924.4 446.01 L924.8 446.17 L925.2 446.34 L925.6 446.49 L926.0 446.65 L926.4 446.79 L926.8 446.94 L927.2 447.07 L927.6 447.21 L928.0 447.34 L928.3 447.47 L928.7 447.59 L929.1 447.71 L929.5 447.83 L929.9 447.94 L930.3 448.05 L930.7 448.16 L931.1 448.26 L931.5 448.37 L931.9 448.47 L932.3 448.56 L932.7 448.66 L933.1 448.75 L933.5 448.84 L933.9 448.93 L934.3 449.01 L934.7 449.10 L935.1 449.18 L935.5 449.26 L935.9 449.33 L936.3 449.41 L936.7 449.48 L937.1 449.56 L937.5 449.63 L937.9 449.70 L938.3 449.76 L938.7 449.83 L939.1 449.90 L939.5 449.96 L939.9 450.02 L940.3 450.08 L940.7 450.14 L941.1 450.20 L941.5 450.26 L941.9 450.31 L942.3 450.37 L942.7 450.42 L943.1 450.47 L943.5 450.52 L943.9 450.57 L944.3 450.62 L944.6 450.67 L945.0 450.72 L945.4 450.77 L945.8 450.81 L946.2 450.86 L946.6 450.90 L947.0 450.94 L947.4 450.99 L947.8 451.03 L948.2 451.07 L948.6 451.11 L949.0 451.15 L949.4 451.19 L949.8 451.23 L950.2 451.26 L950.6 451.30 L951.0 451.34 L951.4 451.37 L951.8 451.41 L952.2 451.44 L952.6 451.47 L953.0 451.51 L953.4 451.54 L953.8 451.57 L954.2 451.60 L954.6 451.63 L955.0 451.66 L955.4 451.69 L955.8 451.72 L956.2 451.75 L956.6 451.78 L957.0 451.81 L957.4 451.84 L957.8 451.86 L958.2 451.89 L958.6 451.92 L959.0 451.94 L959.4 451.97 L959.8 451.99 L960.2 452.02 L960.6 452.04 L961.0 452.07 L961.3 452.09 L961.7 452.11 L962.1 452.14 L962.5 452.16 L962.9 452.18 L963.3 452.20 L963.7 452.23 L964.1 452.25 L964.5 452.27 L964.9 452.29 L965.3 452.31 L965.7 452.33 L966.1 452.35 L966.5 452.37 L966.9 452.39 L967.3 452.41 L967.7 452.43 L968.1 452.45 L968.5 452.46 L968.9 452.48 L969.3 452.50 L969.7 452.52 L970.1 452.54 L970.5 452.55 L970.9 452.57 L971.3 452.59 L971.7 452.60 L972.1 452.62 L972.5 452.64 L972.9 452.65 L973.3 452.67 L973.7 452.68 L974.1 452.70 L974.5 452.71 L974.9 452.73 L975.3 452.74 L975.7 452.76 L976.1 452.77 L976.5 452.79 L976.9 452.80 L977.3 452.81 L977.6 452.83 L978.0 452.84 L978.4 452.86 L978.8 452.87 L979.2 452.88 L979.6 452.89 L980.0 452.91 L980.4 452.92 L980.8 452.93 L981.2 452.94 L981.6 452.96 L982.0 452.97 L982.4 452.98 L982.8 452.99 L983.2 453.00 L983.6 453.02 L984.0 453.03 L984.4 453.04 L984.8 453.05 L985.2 453.06 L985.6 453.07 L986.0 453.08 L986.4 453.09 L986.8 453.10 L987.2 453.11 L987.6 453.12 L988.0 453.13 L988.4 453.14 L988.8 453.15 L989.2 453.16 L989.6 453.17 L990.0 453.18 L990.4 453.19 L990.8 453.20 L991.2 453.21 L991.6 453.22 L992.0 453.23 L992.4 453.24 L992.8 453.25 L993.2 453.26 L993.6 453.27 L994.0 453.27 L994.3 453.28 L994.7 453.29 L995.1 453.30 L995.5 453.31 L995.9 453.32 L996.3 453.32 L996.7 453.33 L997.1 453.34 L997.5 453.35 L997.9 453.36 L998.3 453.36 L998.7 453.37 L999.1 453.38 L999.5 453.39 L999.9 453.39 L1000.3 453.40 L1000.7 453.41 L1001.1 453.42 L1001.5 453.42 L1001.9 453.43 L1002.3 453.44 L1002.7 453.44 L1003.1 453.45 L1003.5 453.46 L1003.9 453.47 L1004.3 453.47 L1004.7 453.48 L1005.1 453.49 L1005.5 453.49 L1005.9 453.50 L1006.3 453.50 L1006.7 453.51 L1007.1 453.52 L1007.5 453.52 L1007.9 453.53 L1008.3 453.54 L1008.7 453.54 L1009.1 453.55 L1009.5 453.55 L1009.9 453.56 L1010.3 453.57 L1010.7 453.57 L1011.0 453.58 L1011.4 453.58 L1011.8 453.59 L1012.2 453.59 L1012.6 453.60 L1013.0 453.61 L1013.4 453.61 L1013.8 453.62 L1014.2 453.62 L1014.6 453.63 L1015.0 453.63 L1015.4 453.64 L1015.8 453.64 L1016.2 453.65 L1016.6 453.65 L1017.0 453.66 L1017.4 453.66 L1017.8 453.67 L1018.2 453.67 L1018.6 453.68 L1019.0 453.68 L1019.4 453.69 L1019.8 453.69 L1020.2 453.70 L1020.6 453.70 L1021.0 453.71 L1021.4 453.71 L1021.8 453.72 L1022.2 453.72 L1022.6 453.72 L1023.0 453.73 L1023.4 453.73 L1023.8 453.74 L1024.2 453.74 L1024.6 453.75 L1025.0 453.75 L1025.4 453.75 L1025.8 453.76 L1026.2 453.76 L1026.6 453.77 L1027.0 453.77 L1027.3 453.78 L1027.7 453.78 L1028.1 453.78 L1028.5 453.79 L1028.9 453.79 L1029.3 453.80 L1029.7 453.80 L1030.1 453.80 L1030.5 453.81 L1030.9 453.81 L1031.3 453.82 L1031.7 453.82 L1032.1 453.82 L1032.5 453.83 L1032.9 453.83 L1033.3 453.83 L1033.7 453.84 L1034.1 453.84 L1034.5 453.84 L1034.9 453.85 L1035.3 453.85 L1035.7 453.85 L1036.1 453.86 L1036.5 453.86 L1036.9 453.87 L1037.3 453.87 L1037.7 453.87 L1038.1 453.88 L1038.5 453.88 L1038.9 453.88 L1039.3 453.89 L1039.7 453.89 L1040.1 453.89 L1040.5 453.89 L1040.9 453.90 L1041.3 453.90 L1041.7 453.90 L1042.1 453.91 L1042.5 453.91 L1042.9 453.91 L1043.3 453.92 L1043.7 453.92 L1044.0 453.92 L1044.4 453.93 L1044.8 453.93 L1045.2 453.93 L1045.6 453.93 L1046.0 453.94 L1046.4 453.94 L1046.8 453.94 L1047.2 453.95 L1047.6 453.95 L1048.0 453.95 L1048.4 453.95 L1048.8 453.96 L1049.2 453.96 L1049.6 453.96 L1050.0 453.97 L1050.4 453.97 L1050.8 453.97 L1051.2 453.97 L1051.6 453.98 L1052.0 453.98 L1052.4 453.98 L1052.8 453.98 L1053.2 453.99 L1053.6 453.99 L1054.0 453.99 L1054.4 453.99 L1054.8 454.00 L1055.2 454.00 L1055.6 454.00 L1056.0 454.00 L1056.4 454.01 L1056.8 454.01 L1057.2 454.01 L1057.6 454.01 L1058.0 454.02 L1058.4 454.02 L1058.8 454.02 L1059.2 454.02 L1059.6 454.03 L1060.0 454.03 L1060.4 454.03 L1060.7 454.03 L1061.1 454.03 L1061.5 454.04 L1061.9 454.04 L1062.3 454.04 L1062.7 454.04 L1063.1 454.05 L1063.5 454.05 L1063.9 454.05 L1064.3 454.05 L1064.7 454.05 L1065.1 454.06 L1065.5 454.06 L1065.9 454.06 L1066.3 454.06 L1066.7 454.06 L1067.1 454.07 L1067.5 454.07 L1067.9 454.07 L1068.3 454.07 L1068.7 454.07 L1069.1 454.08 L1069.5 454.08 L1069.9 454.08 L1070.3 454.08 L1070.7 454.08 L1071.1 454.09 L1071.5 454.09 L1071.9 454.09 L1072.3 454.09 L1072.7 454.09 L1073.1 454.10 L1073.5 454.10 L1073.9 454.10 L1074.3 454.10 L1074.7 454.10 L1075.1 454.10 L1075.5 454.11 L1075.9 454.11 L1076.3 454.11 L1076.7 454.11 L1077.1 454.11 L1077.4 454.12 L1077.8 454.12 L1078.2 454.12 L1078.6 454.12 L1079.0 454.12 L1079.4 454.12 L1079.8 454.13 L1080.2 454.13 L1080.6 454.13 L1081.0 454.13 L1081.4 454.13 L1081.8 454.13 L1082.2 454.14 L1082.6 454.14 L1083.0 454.14 L1083.4 454.14 L1083.8 454.14 L1084.2 454.14 L1084.6 454.15 L1085.0 454.15 L1085.4 454.15 L1085.8 454.15 L1086.2 454.15 L1086.6 454.15 L1087.0 454.15 L1087.4 454.16 L1087.8 454.16 L1088.2 454.16 L1088.6 454.16 L1089.0 454.16 L1089.4 454.16 L1089.8 454.17 L1090.2 454.17 L1090.6 454.17 L1091.0 454.17 L1091.4 454.17 L1091.8 454.17 L1092.2 454.17 L1092.6 454.18 L1093.0 454.18 L1093.4 454.18 L1093.7 454.18 L1094.1 454.18 L1094.5 454.18 L1094.9 454.18 L1095.3 454.19 L1095.7 454.19 L1096.1 454.19 L1096.5 454.19 L1096.9 454.19 L1097.3 454.19 L1097.7 454.19 L1098.1 454.19 L1098.5 454.20 L1098.9 454.20 L1099.3 454.20 L1099.7 454.20 L1100.1 454.20 L1100.5 454.20 L1100.9 454.20 L1101.3 454.21 L1101.7 454.21 L1102.1 454.21 L1102.5 454.21 L1102.9 454.21 L1103.3 454.21 L1103.7 454.21 L1104.1 454.21 L1104.5 454.21 L1104.9 454.22 L1105.3 454.22 L1105.7 454.22 L1106.1 454.22 L1106.5 454.22 L1106.9 454.22 L1107.3 454.22 L1107.7 454.22 L1108.1 454.23 L1108.5 454.23 L1108.9 454.23 L1109.3 454.23 L1109.7 454.23 L1110.1 454.23 L1110.4 454.23 L1110.8 454.23 L1111.2 454.23 L1111.6 454.24 L1112.0 454.24 L1112.4 454.24 L1112.8 454.24 L1113.2 454.24 L1113.6 454.24 L1114.0 454.24 L1114.4 454.24 L1114.8 454.24 L1115.2 454.25 L1115.6 454.25 L1116.0 454.25 L1116.4 454.25 L1116.8 454.25 L1117.2 454.25 L1117.6 454.25 L1118.0 454.25 L1118.4 454.25 L1118.8 454.25 L1119.2 454.26 L1119.6 454.26 L1120.0 454.26 L1120.4 454.26 L1120.8 454.26 L1121.2 454.26 L1121.6 454.26 L1122.0 454.26 L1122.4 454.26 L1122.8 454.26 L1123.2 454.27 L1123.6 454.27 L1124.0 454.27 L1124.4 454.27 L1124.8 454.27 L1125.2 454.27 L1125.6 454.27 L1126.0 454.27 L1126.4 454.27 L1126.8 454.27 L1127.1 454.28 L1127.5 454.28 L1127.9 454.28 L1128.3 454.28 L1128.7 454.28 L1129.1 454.28 L1129.5 454.28 L1129.9 454.28 L1130.3 454.28 L1130.7 454.28 L1131.1 454.28 L1131.5 454.29 L1131.9 454.29 L1132.3 454.29 L1132.7 454.29 L1133.1 454.29 L1133.5 454.29 L1133.9 454.29 L1134.3 454.29 L1134.7 454.29 L1135.1 454.29 L1135.5 454.29 L1135.9 454.29 L1136.3 454.30 L1136.7 454.30 L1137.1 454.30 L1137.5 454.30 L1137.9 454.30 L1138.3 454.30 L1138.7 454.30 L1139.1 454.30 L1139.5 454.30 L1139.9 454.30 L1140.3 454.30 L1140.7 454.30 L1141.1 454.31 L1141.5 454.31 L1141.9 454.31 L1142.3 454.31 L1142.7 454.31 L1143.1 454.31 L1143.4 454.31 L1143.8 454.31 L1144.2 454.31 L1144.6 454.31 L1145.0 454.31 L1145.4 454.31 L1145.8 454.31 L1146.2 454.32 L1146.6 454.32 L1147.0 454.32 L1147.4 454.32 L1147.8 454.32 L1148.2 454.32 L1148.6 454.32 L1149.0 454.32 L1149.4 454.32 L1149.8 454.32 L1150.2 454.32 L1150.6 454.32 L1151.0 454.32 L1151.4 454.32 L1151.8 454.33 L1152.2 454.33 L1152.6 454.33 L1153.0 454.33 L1153.4 454.33 L1153.8 454.33 L1154.2 454.33 L1154.6 454.33 L1155.0 454.33 L1155.4 454.33 L1155.8 454.33 L1156.2 454.33 L1156.6 454.33 L1157.0 454.33 L1157.4 454.33 L1157.8 454.34 L1158.2 454.34 L1158.6 454.34 L1159.0 454.34 L1159.4 454.34 L1159.8 454.34 L1160.1 454.34 L1160.5 454.34 L1160.9 454.34 L1161.3 454.34 L1161.7 454.34 L1162.1 454.34 L1162.5 454.34 L1162.9 454.34 L1163.3 454.34 L1163.7 454.35 L1164.1 454.35 L1164.5 454.35 L1164.9 454.35 L1165.3 454.35 L1165.7 454.35 L1166.1 454.35 L1166.5 454.35" fill="none" stroke="#ff0000" stroke-width="3.2" stroke-linejoin="round" stroke-linecap="round" transform="scale(1,1.100)" />
<path d="M387.8 305.51 L388.7 313.04 L389.7 321.74 L390.8 323.91 L392.0 325.36 L393.0 332.61 L394.2 331.88 L395.3 330.43 L396.7 331.16 L397.5 334.78 L399.2 339.13 L400.8 345.65 L401.9 336.52 L402.4 335.87 L402.9 331.52 L403.3 327.17 L403.8 326.52 L404.3 328.26 L404.6 322.83 L404.9 318.48 L405.4 319.57 L405.8 320.00 L406.3 319.13 L406.7 316.30 L407.2 311.96 L407.7 308.70 L408.3 305.43 L408.8 303.26 L409.1 297.83 L409.4 289.13 L409.8 285.43 L410.3 286.96 L410.7 291.96 L411.0 284.78 L411.3 277.83 L411.8 275.00 L412.3 273.48 L412.8 269.57 L413.2 265.22 L413.7 261.27 L414.3 253.28 L414.8 245.82 L415.4 237.83 L415.8 234.10 L416.2 231.44 L416.5 226.64 L416.8 219.18 L417.1 210.66 L417.4 204.26 L417.6 200.00 L417.7 198.91 L418.0 189.13 L418.4 179.35 L418.6 177.83 L419.0 180.43 L419.3 186.96 L419.8 200.00 L420.0 208.53 L420.3 219.18 L420.7 228.77 L421.1 237.30 L421.6 243.16 L422.0 247.42 L422.3 250.62 L422.6 250.62 L422.9 248.49 L423.2 245.82 L423.6 245.50 L423.9 244.97 L424.2 241.56 L424.3 236.23 L424.5 227.71 L424.6 221.31 L424.8 217.58 L425.1 219.18 L425.4 218.97 L425.8 216.52 L426.1 212.79 L426.4 207.46 L426.7 200.00 L427.0 189.13 L427.5 178.26 L427.9 169.57 L428.2 160.87 L428.5 147.83 L429.0 132.61 L429.5 117.39 L429.9 100.00 L430.4 82.61 L430.7 75.00 L430.9 72.83 L431.3 75.00 L431.6 75.65 L431.9 80.43 L432.2 89.13 L432.3 98.91 L432.6 91.30 L432.7 106.52 L432.9 128.26 L433.2 160.87 L433.5 186.96 L433.7 200.00 L433.9 210.66 L434.2 221.31 L434.4 235.17 L434.6 242.63 L434.9 249.02 L435.4 258.61 L435.8 269.27 L436.4 280.99 L437.0 293.78 L437.6 304.33 L437.8 306.52 L438.7 320.65 L439.7 336.96 L440.3 350.00 L440.8 361.30 L441.4 360.87 L442.0 362.61 L442.6 365.65 L443.2 369.13 L443.8 373.26 L444.6 372.39 L445.9 372.61 L447.1 372.83 L448.3 372.17 L449.6 370.87 L450.2 369.78 L451.0 369.57 L453.8 367.83 L458.8 366.30 L463.8 364.35 L467.5 366.30 L469.5 368.48 L470.0 359.78 L472.5 361.96 L480.0 360.22 L487.5 358.70 L492.5 357.61 L497.5 358.70 L502.5 360.43 L507.5 360.87 L512.5 363.04 L520.0 363.70 L526.2 364.78 L530.0 363.04 L533.8 360.87 L537.5 361.96 L539.5 367.39 L540.5 358.70 L545.0 360.43 L552.5 358.26 L560.0 356.52 L566.2 355.43 L570.0 356.52 L575.0 356.09 L580.0 353.26 L585.0 350.65 L592.5 348.91 L600.0 344.57 L610.0 343.48 L610.5 345.22 L611.2 339.13 L616.2 334.78 L622.5 331.52 L626.2 331.96 L630.0 331.96 L633.8 327.17 L637.5 319.57 L641.2 311.96 L645.0 308.26 L652.5 302.17 L660.0 295.65 L667.5 288.04 L675.0 279.35 L680.0 272.83 L684.2 260.87 L686.7 257.54 L690.0 257.68 L693.3 257.97 L696.7 255.80 L699.2 251.45 L701.7 243.48 L704.2 235.51 L706.7 230.43 L709.2 228.26 L711.3 228.99 L713.3 232.61 L715.8 236.96 L717.5 239.57 L720.0 240.14 L723.3 238.84 L726.7 236.23 L729.2 234.06 L732.5 233.33 L735.8 230.87 L739.2 228.99 L742.5 227.54 L745.0 226.09 L746.7 224.64 L748.0 226.09 L748.3 221.74 L750.0 218.84 L752.5 213.77 L755.0 205.80 L756.7 197.10 L758.3 189.86 L760.0 184.78 L761.7 182.61 L764.2 181.59 L767.5 181.45 L769.2 182.61 L771.7 186.96 L774.2 192.75 L777.5 201.45 L780.8 207.97 L784.2 214.49 L787.5 221.01 L790.8 224.64 L793.3 226.09 L795.8 230.43 L799.2 236.23 L802.5 242.03 L805.0 247.83 L807.5 255.07 L809.7 261.59 L812.5 265.94 L815.8 271.01 L818.7 273.62 L818.8 263.04 L820.8 258.70 L823.3 255.07 L825.8 252.17 L828.3 248.55 L831.7 244.93 L835.0 243.19 L839.2 243.48 L840.0 244.18 L842.4 244.53 L844.8 245.41 L847.3 247.34 L849.7 249.61 L851.7 251.37 L854.1 252.77 L856.9 254.70 L859.4 256.63 L861.0 257.85 L862.6 258.03 L864.2 257.85 L865.8 256.80 L867.4 255.58 L869.0 256.63 L870.6 258.20 L872.3 260.31 L873.5 262.41 L874.3 262.06 L875.5 261.01 L877.1 258.56 L878.7 256.80 L880.7 255.05 L882.3 252.59 L885.2 249.09 L887.6 246.98 L889.5 245.06 L889.8 248.04 L890.0 251.19 L891.6 252.24 L893.6 254.00 L896.0 258.20 L897.7 262.06 L900.0 269.78 L901.2 269.57 L907.5 278.26 L915.0 290.22 L922.5 304.35 L930.0 314.13 L937.5 330.43 L945.0 342.39 L951.2 352.17 L957.5 365.22 L965.0 376.09 L972.5 386.96 L980.0 397.83 L985.0 403.26 L988.8 409.78 L992.5 409.78 L995.8 408.04 L998.8 411.96 L1003.8 416.96 L1007.5 416.30 L1012.5 420.65 L1017.5 423.91 L1022.5 427.17 L1027.0 431.52 L1027.5 428.26 L1032.5 429.35 L1038.8 428.26 L1042.5 430.00 L1047.5 427.17 L1053.8 423.26 L1058.8 425.65 L1063.8 423.48 L1068.8 423.04 L1075.0 426.09 L1081.2 426.09 L1087.5 425.00 L1093.8 425.00 L1097.5 430.43 L1098.0 425.00 L1102.5 425.00 L1108.8 420.65 L1113.8 425.00 L1121.2 422.83 L1126.2 425.00 L1130.0 430.00 L1135.0 429.35 L1138.8 430.43 L1147.5 425.65 L1153.8 428.26 L1160.0 427.83 L1166.8 425.00" fill="none" stroke="#0000ff" stroke-width="2.4" stroke-linejoin="round" stroke-linecap="round" transform="scale(1,1.150)" />
</g>
<g clip-path="url(#cb)">
<path d="M1188.0 364.58 L1189.0 364.68 L1190.4 364.81 L1192.0 364.97 L1193.8 365.14 L1195.6 365.29 L1197.5 365.42 L1199.4 365.52 L1201.4 365.62 L1203.6 365.72 L1205.7 365.79 L1207.9 365.83 L1210.0 365.83 L1212.1 365.80 L1214.2 365.74 L1216.2 365.65 L1218.3 365.53 L1220.4 365.38 L1222.5 365.21 L1224.6 365.00 L1226.7 364.77 L1228.8 364.51 L1230.8 364.21 L1232.9 363.89 L1235.0 363.54 L1237.1 363.17 L1239.2 362.77 L1241.2 362.34 L1243.3 361.88 L1245.4 361.38 L1247.5 360.83 L1249.6 360.23 L1251.8 359.58 L1253.9 358.89 L1256.0 358.17 L1258.1 357.43 L1260.0 356.67 L1261.8 355.92 L1263.5 355.17 L1265.2 354.40 L1266.8 353.58 L1268.4 352.68 L1270.0 351.67 L1271.7 350.52 L1273.4 349.26 L1275.2 347.92 L1276.9 346.53 L1278.5 345.13 L1280.0 343.75 L1281.4 342.43 L1282.7 341.16 L1283.9 339.87 L1285.1 338.52 L1286.3 337.05 L1287.5 335.42 L1288.8 333.57 L1290.0 331.56 L1291.3 329.43 L1292.6 327.24 L1293.8 325.05 L1295.0 322.92 L1296.1 320.91 L1297.2 318.98 L1298.2 317.06 L1299.2 315.05 L1300.2 312.86 L1301.2 310.42 L1302.3 307.65 L1303.5 304.61 L1304.6 301.39 L1305.8 298.10 L1306.8 294.82 L1307.8 291.65 L1308.6 288.60 L1309.4 285.60 L1310.1 282.61 L1310.8 279.60 L1311.4 276.53 L1312.1 273.37 L1312.7 270.09 L1313.4 266.72 L1314.0 263.29 L1314.6 259.83 L1315.2 256.37 L1315.7 252.94 L1316.3 249.48 L1316.8 245.94 L1317.3 242.41 L1317.8 238.95 L1318.3 235.62 L1318.8 232.52 L1319.2 229.67 L1319.7 227.03 L1320.1 224.54 L1320.5 222.11 L1320.8 219.69 L1321.2 217.20 L1321.7 214.59 L1322.1 211.90 L1322.5 209.22 L1322.9 206.61 L1323.3 204.14 L1323.7 201.88 L1324.1 199.86 L1324.5 198.03 L1324.9 196.34 L1325.2 194.74 L1325.5 193.20 L1325.8 191.67 L1325.9 190.22 L1325.9 188.90 L1325.9 187.64 L1325.9 186.35 L1326.0 184.94 L1326.2 183.33 L1326.7 181.38 L1327.3 179.11 L1328.0 176.73 L1328.7 174.43 L1329.4 172.40 L1330.0 170.83 L1330.5 169.79 L1331.0 169.12 L1331.4 168.72 L1331.8 168.50 L1332.1 168.33 L1332.5 168.12 L1332.8 167.91 L1333.1 167.76 L1333.4 167.68 L1333.7 167.65 L1334.0 167.67 L1334.2 167.71 L1334.6 167.74 L1334.9 167.75 L1335.2 167.81 L1335.5 167.96 L1335.9 168.26 L1336.2 168.75 L1336.6 169.37 L1337.0 170.06 L1337.4 170.90 L1337.8 171.95 L1338.2 173.30 L1338.8 175.00 L1339.3 177.21 L1340.0 179.91 L1340.7 182.89 L1341.4 185.98 L1342.1 188.96 L1342.7 191.67 L1343.2 194.03 L1343.6 196.19 L1344.0 198.26 L1344.3 200.34 L1344.7 202.53 L1345.1 204.94 L1345.6 207.66 L1346.1 210.62 L1346.6 213.69 L1347.2 216.74 L1347.7 219.66 L1348.2 222.30 L1348.7 224.65 L1349.2 226.80 L1349.7 228.81 L1350.2 230.74 L1350.7 232.63 L1351.3 234.56 L1351.9 236.54 L1352.5 238.53 L1353.1 240.49 L1353.7 242.39 L1354.3 244.17 L1355.0 245.79 L1355.6 247.25 L1356.2 248.57 L1356.8 249.78 L1357.4 250.90 L1358.0 251.94 L1358.6 252.94 L1359.2 253.88 L1359.8 254.76 L1360.4 255.56 L1361.0 256.29 L1361.7 256.95 L1362.3 257.54 L1363.0 258.07 L1363.7 258.56 L1364.4 258.97 L1365.1 259.30 L1365.9 259.50 L1366.6 259.58 L1367.3 259.52 L1368.0 259.33 L1368.7 259.04 L1369.5 258.63 L1370.2 258.13 L1370.9 257.54 L1371.6 256.84 L1372.3 256.02 L1373.0 255.11 L1373.7 254.11 L1374.5 253.05 L1375.2 251.92 L1375.9 250.72 L1376.6 249.42 L1377.4 248.06 L1378.1 246.64 L1378.8 245.20 L1379.5 243.75 L1380.1 242.30 L1380.7 240.84 L1381.3 239.35 L1381.9 237.81 L1382.5 236.22 L1383.1 234.56 L1383.8 232.80 L1384.4 230.97 L1385.0 229.07 L1385.6 227.15 L1386.2 225.22 L1386.8 223.33 L1387.4 221.46 L1387.9 219.62 L1388.4 217.77 L1388.9 215.91 L1389.4 214.02 L1389.9 212.09 L1390.4 210.06 L1390.9 207.93 L1391.5 205.77 L1392.0 203.66 L1392.5 201.65 L1392.9 199.84 L1393.3 198.28 L1393.6 196.95 L1393.9 195.74 L1394.2 194.53 L1394.5 193.21 L1394.8 191.67 L1395.1 189.99 L1395.5 188.29 L1395.9 186.47 L1396.2 184.47 L1396.7 182.22 L1397.1 179.62 L1397.6 176.56 L1398.2 173.08 L1398.8 169.33 L1399.4 165.49 L1400.0 161.73 L1400.5 158.22 L1401.1 154.98 L1401.7 151.88 L1402.3 148.85 L1402.8 145.85 L1403.4 142.81 L1404.0 139.67 L1404.5 136.39 L1405.1 133.01 L1405.7 129.59 L1406.3 126.19 L1406.8 122.87 L1407.4 119.69 L1408.0 116.64 L1408.5 113.67 L1409.1 110.77 L1409.7 107.96 L1410.3 105.22 L1410.8 102.57 L1411.4 99.96 L1412.0 97.39 L1412.6 94.90 L1413.2 92.53 L1413.7 90.31 L1414.2 88.30 L1414.7 86.50 L1415.2 84.89 L1415.6 83.44 L1416.0 82.12 L1416.4 80.89 L1416.8 79.74 L1417.2 78.67 L1417.7 77.70 L1418.1 76.84 L1418.5 76.06 L1419.0 75.37 L1419.4 74.74 L1419.8 74.20 L1420.3 73.75 L1420.7 73.38 L1421.1 73.07 L1421.5 72.82 L1422.0 72.60 L1422.3 72.43 L1422.7 72.31 L1423.1 72.24 L1423.5 72.22 L1423.8 72.24 L1424.2 72.32 L1424.5 72.42 L1424.9 72.55 L1425.2 72.73 L1425.5 72.97 L1425.9 73.30 L1426.2 73.74 L1426.6 74.29 L1427.1 74.94 L1427.5 75.67 L1427.9 76.48 L1428.4 77.36 L1428.8 78.31 L1429.2 79.33 L1429.7 80.45 L1430.1 81.63 L1430.5 82.87 L1430.9 84.14 L1431.4 85.45 L1431.8 86.76 L1432.2 88.09 L1432.7 89.46 L1433.1 90.89 L1433.5 92.40 L1433.9 94.01 L1434.4 95.74 L1434.8 97.60 L1435.2 99.54 L1435.7 101.51 L1436.1 103.49 L1436.5 105.42 L1436.9 107.31 L1437.4 109.17 L1437.8 111.04 L1438.2 112.93 L1438.6 114.85 L1439.1 116.84 L1439.5 118.90 L1439.9 121.01 L1440.4 123.17 L1440.8 125.35 L1441.2 127.52 L1441.6 129.68 L1442.1 131.80 L1442.5 133.91 L1442.9 136.01 L1443.4 138.14 L1443.8 140.30 L1444.2 142.52 L1444.6 144.80 L1445.1 147.12 L1445.5 149.48 L1445.9 151.88 L1446.4 154.31 L1446.8 156.79 L1447.2 159.38 L1447.7 162.08 L1448.1 164.82 L1448.6 167.52 L1449.0 170.10 L1449.3 172.49 L1449.7 174.68 L1450.0 176.75 L1450.4 178.69 L1450.6 180.53 L1450.9 182.26 L1451.1 183.90 L1451.1 185.35 L1451.1 186.56 L1451.1 187.67 L1451.0 188.81 L1451.0 190.10 L1451.2 191.67 L1451.4 193.56 L1451.8 195.68 L1452.2 197.96 L1452.7 200.31 L1453.2 202.67 L1453.6 204.94 L1454.0 207.17 L1454.4 209.41 L1454.8 211.64 L1455.2 213.87 L1455.6 216.07 L1456.1 218.22 L1456.5 220.32 L1456.8 222.38 L1457.2 224.41 L1457.6 226.43 L1458.1 228.44 L1458.5 230.47 L1459.0 232.52 L1459.5 234.56 L1460.0 236.60 L1460.5 238.64 L1461.1 240.69 L1461.6 242.73 L1462.1 244.76 L1462.6 246.78 L1463.1 248.79 L1463.6 250.82 L1464.1 252.88 L1464.6 254.98 L1465.2 257.14 L1465.8 259.33 L1466.4 261.56 L1467.1 263.80 L1467.7 266.04 L1468.3 268.26 L1468.9 270.51 L1469.6 272.80 L1470.2 275.10 L1470.8 277.35 L1471.4 279.51 L1472.0 281.54 L1472.5 283.42 L1473.1 285.21 L1473.6 286.90 L1474.1 288.52 L1474.6 290.10 L1475.0 291.65 L1475.5 293.09 L1475.8 294.41 L1476.2 295.67 L1476.5 296.97 L1477.0 298.39 L1477.5 300.00 L1478.2 301.87 L1479.0 303.94 L1479.8 306.12 L1480.7 308.33 L1481.6 310.49 L1482.5 312.50 L1483.3 314.33 L1484.1 316.05 L1484.8 317.71 L1485.6 319.37 L1486.5 321.08 L1487.5 322.92 L1488.6 324.90 L1489.8 327.01 L1491.1 329.17 L1492.4 331.33 L1493.7 333.43 L1495.0 335.42 L1496.2 337.31 L1497.5 339.16 L1498.8 340.95 L1500.0 342.67 L1501.2 344.30 L1502.5 345.83 L1503.7 347.22 L1504.9 348.46 L1506.1 349.61 L1507.3 350.73 L1508.6 351.89 L1510.0 353.12 L1511.5 354.48 L1513.1 355.90 L1514.8 357.36 L1516.6 358.80 L1518.3 360.18 L1520.0 361.46 L1521.7 362.63 L1523.3 363.73 L1525.0 364.78 L1526.7 365.78 L1528.3 366.75 L1530.0 367.71 L1531.7 368.65 L1533.3 369.56 L1535.0 370.44 L1536.7 371.30 L1538.3 372.12 L1540.0 372.92 L1541.7 373.68 L1543.3 374.41 L1545.0 375.10 L1546.7 375.78 L1548.3 376.44 L1550.0 377.08 L1551.6 377.71 L1553.2 378.30 L1554.8 378.88 L1556.5 379.45 L1558.2 380.03 L1560.0 380.62 L1561.9 381.25 L1564.0 381.88 L1566.1 382.53 L1568.2 383.16 L1570.4 383.78 L1572.5 384.38 L1574.7 384.95 L1576.9 385.53 L1579.1 386.09 L1581.3 386.62 L1583.3 387.09 L1585.0 387.50 L1586.5 387.83 L1587.8 388.10 L1588.9 388.32 L1589.9 388.50 L1590.6 388.64 L1591.2 388.75" fill="none" stroke="#ff0000" stroke-width="2.9" stroke-linejoin="round" stroke-linecap="round" transform="scale(1,1.200)" />
<path d="M1188.0 343.48 L1191.2 337.39 L1195.0 336.52 L1198.8 335.87 L1202.5 331.52 L1206.2 327.17 L1210.0 326.52 L1213.8 328.26 L1216.2 322.83 L1218.8 318.48 L1222.5 319.57 L1226.2 320.00 L1230.0 319.13 L1233.8 316.30 L1237.5 311.96 L1241.2 308.70 L1246.2 305.43 L1250.5 303.26 L1253.0 297.83 L1255.5 289.13 L1258.8 285.43 L1262.5 286.96 L1265.8 291.96 L1268.2 284.78 L1270.8 277.83 L1274.5 275.00 L1278.8 273.48 L1282.5 269.57 L1286.2 265.22 L1290.0 261.27 L1294.9 253.28 L1299.2 245.82 L1303.5 237.83 L1307.2 234.10 L1310.2 231.44 L1312.7 226.64 L1315.1 219.18 L1317.6 210.66 L1320.0 204.26 L1321.9 200.00 L1322.0 198.91 L1325.0 189.13 L1328.0 179.35 L1330.0 177.83 L1332.5 180.43 L1335.0 186.96 L1339.0 200.00 L1340.9 208.53 L1343.3 219.18 L1346.4 228.77 L1350.0 237.30 L1353.7 243.16 L1356.8 247.42 L1359.9 250.62 L1362.3 250.62 L1364.8 248.49 L1367.2 245.82 L1370.3 245.50 L1372.7 244.97 L1374.6 241.56 L1375.8 236.23 L1377.0 227.71 L1378.5 221.31 L1380.1 217.58 L1382.5 219.18 L1385.0 218.97 L1388.0 216.52 L1390.5 212.79 L1392.9 207.46 L1395.4 200.00 L1397.5 189.13 L1401.2 178.26 L1405.0 169.57 L1407.5 160.87 L1410.0 147.83 L1413.8 132.61 L1417.5 117.39 L1421.2 100.00 L1425.0 82.61 L1427.5 75.00 L1429.5 72.83 L1432.5 75.00 L1435.0 75.65 L1437.5 80.43 L1439.5 89.13 L1440.5 98.91 L1442.5 91.30 L1443.8 106.52 L1445.0 128.26 L1447.5 160.87 L1450.0 186.96 L1451.8 200.00 L1453.6 210.66 L1455.4 221.31 L1457.3 235.17 L1459.1 242.63 L1461.6 249.02 L1465.2 258.61 L1468.9 269.27 L1473.8 280.99 L1478.7 293.78 L1483.0 304.33 L1485.0 306.52 L1492.5 320.65 L1500.0 336.96 L1505.0 350.00 L1509.5 361.30 L1513.8 360.87 L1518.8 362.61 L1523.8 365.65 L1528.8 369.13 L1533.2 373.26 L1540.0 372.39 L1550.0 372.61 L1560.0 372.83 L1570.0 372.17 L1580.0 370.87 L1585.0 369.78 L1591.2 369.57" fill="none" stroke="#0000ff" stroke-width="3.1" stroke-linejoin="round" stroke-linecap="round" transform="scale(1,1.150)" />
</g>
<g font-size="38.0" fill="#000" text-anchor="middle">
<text x="133.6" y="541.2">1000</text>
<text x="332.4" y="541.2">1500</text>
<text x="531.1" y="541.2">2000</text>
<text x="729.9" y="541.2">2500</text>
<text x="928.8" y="541.2">3000</text>
<text x="1127.5" y="541.2">3500</text>
<text x="1269.8" y="541.2">1700</text>
<text x="1430.5" y="541.2">1750</text>
<text x="1591.8" y="541.2">1800</text>
</g>
<g font-size="38.0" fill="#000" text-anchor="end">
<text x="83" y="511.9">0</text>
<text x="83" y="350.7">10</text>
<text x="83" y="189.6">20</text>
<text x="83" y="28.4">30</text>
</g>
<text x="814" y="593.5" font-size="38" text-anchor="middle">Wavenumber (cm<tspan font-size="21.5" dy="-12.8">-1</tspan><tspan dy="12.8" dx="0.8">)</tspan></text>
<g transform="translate(24,264) rotate(-90)"><text x="0" y="0" font-family="'DejaVu Serif', 'Liberation Serif', serif" font-style="italic" font-size="46">ε</text><text x="17.5" y="10.3" font-size="31">2</text></g>
<path d="M890.3 48.3H939" stroke="#0072bd" stroke-width="1.9"/>
<path d="M890.3 89.9H939" stroke="#ff0000" stroke-width="1.9"/>
<text x="960.2" y="61.9" font-size="38">experiment</text>
<text x="960.2" y="102.3" font-size="38.2">calculation</text>
<g font-weight="bold" font-size="37.5">
<text x="114.8" y="63.3">a</text>
<text x="1531.5" y="63.3">b</text>
<text x="10.5" y="646.6">c</text>
</g>
<path d="M426.3 42.0h10.8v15.9h5.3L431.7 68.7L421.0 57.9h5.3z" fill="#ffff00" stroke="#651d60" stroke-width="0.9" stroke-linejoin="miter"/>
<path d="M411.7 165.5h10.8v15.9h5.3L417.1 192.2L406.4 181.4h5.3z" fill="#ffff00" stroke="#651d60" stroke-width="0.9" stroke-linejoin="miter"/>
<path d="M758.6 169.2h10.8v15.9h5.3L764.0 195.9L753.3 185.1h5.3z" fill="#ffff00" stroke="#651d60" stroke-width="0.9" stroke-linejoin="miter"/>
<path d="M883.4 244.1h10.8v15.9h5.3L888.8 270.8L878.1 260.0h5.3z" fill="#ffff00" stroke="#651d60" stroke-width="0.9" stroke-linejoin="miter"/>
<path d="M1424.2 36.6h10.8v15.9h5.3L1429.6 63.3L1418.9 52.5h5.3z" fill="#ffff00" stroke="#651d60" stroke-width="0.9" stroke-linejoin="miter"/>
<path d="M1321.9 169.0h10.8v15.9h5.3L1327.3 195.7L1316.6 184.9h5.3z" fill="#ffff00" stroke="#651d60" stroke-width="0.9" stroke-linejoin="miter"/>
<g font-size="41.5" fill="#008000">
<text x="456" y="69.8">ii</text>
<text x="386" y="191.2">i</text>
<text x="750" y="145.3">iii</text>
<text x="875.2" y="231">iv</text>
<text x="1454.3" y="65">ii</text>
<text x="1292.8" y="193.6">i</text>
</g>
<text x="933.4" y="336.9" font-size="37" fill="#4d4dff" font-family="'DejaVu Sans', 'Liberation Sans', sans-serif" font-weight="200">×</text><text x="960.6" y="335.9" font-size="38" fill="#4d4dff">10</text>
<text x="1208.4" y="302.4" font-size="37" fill="#4d4dff" font-family="'DejaVu Sans', 'Liberation Sans', sans-serif" font-weight="200">×</text><text x="1235.6" y="301.4" font-size="38" fill="#4d4dff">10</text>
<text x="1243.4" y="474.1" font-size="37" fill="#ff0000" font-family="'DejaVu Sans', 'Liberation Sans', sans-serif" font-weight="200">×</text><text x="1270.6" y="473.1" font-size="38" fill="#ff0000">10</text>
<defs><radialGradient id="gC" cx="0.57" cy="0.43" r="0.60" fx="0.60" fy="0.38"><stop offset="0" stop-color="#929292"/><stop offset="0.5" stop-color="#878787"/><stop offset="0.8" stop-color="#6c6c6c"/><stop offset="1" stop-color="#4a4a4a"/></radialGradient><radialGradient id="gO" cx="0.57" cy="0.43" r="0.60" fx="0.60" fy="0.38"><stop offset="0" stop-color="#ff1c1c"/><stop offset="0.5" stop-color="#f40c0c"/><stop offset="0.8" stop-color="#c60707"/><stop offset="1" stop-color="#8e0000"/></radialGradient><radialGradient id="gH" cx="0.57" cy="0.43" r="0.60" fx="0.60" fy="0.38"><stop offset="0" stop-color="#fbfbfb"/><stop offset="0.5" stop-color="#eeeeee"/><stop offset="0.8" stop-color="#cecece"/><stop offset="1" stop-color="#a8a8a8"/></radialGradient></defs>
<g fill="none" stroke-linecap="butt"><path d="M238.3 766.3L238.6 736.3" stroke="#808080" stroke-width="14.0"/><path d="M236.3 766.3L236.6 736.3" stroke="#939393" stroke-width="3.2" opacity="0.55"/><path d="M244.4 766.4L244.7 736.4" stroke="#6c6c6c" stroke-width="1.8" opacity="0.6"/><path d="M238.6 736.3L238.9 704.8" stroke="#f20c0c" stroke-width="14.0"/><path d="M236.6 736.3L236.9 704.8" stroke="#ff3a3a" stroke-width="3.2" opacity="0.55"/><path d="M244.7 736.4L245.0 704.9" stroke="#d00000" stroke-width="1.8" opacity="0.6"/><path d="M238.3 766.3L179.2 810.5" stroke="#808080" stroke-width="14.0"/><path d="M237.1 764.7L178.0 808.9" stroke="#939393" stroke-width="3.2" opacity="0.55"/><path d="M242.0 771.2L182.9 815.4" stroke="#6c6c6c" stroke-width="1.8" opacity="0.6"/><path d="M238.3 766.3L296.1 810.6" stroke="#808080" stroke-width="14.0"/><path d="M239.5 764.7L297.3 809.0" stroke="#939393" stroke-width="3.2" opacity="0.55"/><path d="M234.6 771.1L292.4 815.4" stroke="#6c6c6c" stroke-width="1.8" opacity="0.6"/><path d="M179.2 810.5L150.1 803.3" stroke="#808080" stroke-width="14.0"/><path d="M179.7 808.6L150.6 801.4" stroke="#939393" stroke-width="3.2" opacity="0.55"/><path d="M177.7 816.4L148.7 809.3" stroke="#6c6c6c" stroke-width="1.8" opacity="0.6"/><path d="M150.1 803.3L119.5 795.8" stroke="#f20c0c" stroke-width="14.0"/><path d="M150.6 801.4L120.0 793.9" stroke="#ff3a3a" stroke-width="3.2" opacity="0.55"/><path d="M148.7 809.3L118.0 801.7" stroke="#d00000" stroke-width="1.8" opacity="0.6"/><path d="M179.2 810.5L202.5 881.9" stroke="#808080" stroke-width="14.0"/><path d="M181.1 809.9L204.4 881.3" stroke="#939393" stroke-width="3.2" opacity="0.55"/><path d="M173.4 812.4L196.7 883.8" stroke="#6c6c6c" stroke-width="1.8" opacity="0.6"/><path d="M296.1 810.6L326.5 802.4" stroke="#808080" stroke-width="14.0"/><path d="M295.6 808.7L326.0 800.4" stroke="#939393" stroke-width="3.2" opacity="0.55"/><path d="M297.7 816.5L328.1 808.2" stroke="#6c6c6c" stroke-width="1.8" opacity="0.6"/><path d="M326.5 802.4L358.5 793.7" stroke="#f20c0c" stroke-width="14.0"/><path d="M326.0 800.4L358.0 791.8" stroke="#ff3a3a" stroke-width="3.2" opacity="0.55"/><path d="M328.1 808.2L360.1 799.6" stroke="#d00000" stroke-width="1.8" opacity="0.6"/><path d="M296.1 810.6L275.3 877.9" stroke="#808080" stroke-width="14.0"/><path d="M294.2 810.0L273.4 877.3" stroke="#939393" stroke-width="3.2" opacity="0.55"/><path d="M301.9 812.4L281.1 879.7" stroke="#6c6c6c" stroke-width="1.8" opacity="0.6"/><path d="M202.5 881.9L275.3 877.9" stroke="#808080" stroke-width="14.0"/><path d="M202.4 879.9L275.2 875.9" stroke="#939393" stroke-width="3.2" opacity="0.55"/><path d="M202.8 888.0L275.6 884.0" stroke="#6c6c6c" stroke-width="1.8" opacity="0.6"/><path d="M202.5 881.9L186.5 906.8" stroke="#808080" stroke-width="14.0"/><path d="M200.8 880.8L184.8 905.7" stroke="#939393" stroke-width="3.2" opacity="0.55"/><path d="M207.6 885.2L191.7 910.1" stroke="#6c6c6c" stroke-width="1.8" opacity="0.6"/><path d="M186.5 906.8L169.7 933.1" stroke="#f20c0c" stroke-width="14.0"/><path d="M184.8 905.7L168.0 932.0" stroke="#ff3a3a" stroke-width="3.2" opacity="0.55"/><path d="M191.7 910.1L174.8 936.4" stroke="#d00000" stroke-width="1.8" opacity="0.6"/><path d="M275.3 877.9L293.0 904.0" stroke="#808080" stroke-width="14.0"/><path d="M277.0 876.8L294.7 902.9" stroke="#939393" stroke-width="3.2" opacity="0.55"/><path d="M270.3 881.3L288.0 907.4" stroke="#6c6c6c" stroke-width="1.8" opacity="0.6"/><path d="M293.0 904.0L311.7 931.4" stroke="#f20c0c" stroke-width="14.0"/><path d="M294.7 902.9L313.4 930.3" stroke="#ff3a3a" stroke-width="3.2" opacity="0.55"/><path d="M288.0 907.4L306.7 934.8" stroke="#d00000" stroke-width="1.8" opacity="0.6"/><path d="M358.5 793.7L362.4 768.8" stroke="#f20c0c" stroke-width="14.4"/><path d="M356.5 793.4L360.4 768.4" stroke="#ff3a3a" stroke-width="3.2" opacity="0.55"/><path d="M364.7 794.7L368.6 769.7" stroke="#d00000" stroke-width="1.8" opacity="0.6"/><path d="M362.4 768.8L366.2 743.8" stroke="#ebebeb" stroke-width="14.4"/><path d="M360.4 768.4L364.2 743.5" stroke="#fbfbfb" stroke-width="3.2" opacity="0.55"/><path d="M368.6 769.7L372.4 744.8" stroke="#d2d2d2" stroke-width="1.8" opacity="0.6"/><path d="M311.7 931.4L336.4 926.8" stroke="#f20c0c" stroke-width="14.4"/><path d="M311.3 929.4L336.1 924.9" stroke="#ff3a3a" stroke-width="3.2" opacity="0.55"/><path d="M312.8 937.6L337.6 933.0" stroke="#d00000" stroke-width="1.8" opacity="0.6"/><path d="M336.4 926.8L361.2 922.3" stroke="#ebebeb" stroke-width="14.4"/><path d="M336.1 924.9L360.8 920.3" stroke="#fbfbfb" stroke-width="3.2" opacity="0.55"/><path d="M337.6 933.0L362.3 928.5" stroke="#d2d2d2" stroke-width="1.8" opacity="0.6"/></g><g><circle cx="238.9" cy="704.8" r="17.3" fill="url(#gO)"/><circle cx="241.3" cy="702.2" r="1.6" fill="#ff8a8a" opacity="0.8"/><circle cx="238.3" cy="766.3" r="19.1" fill="url(#gC)"/><circle cx="240.7" cy="763.7" r="1.6" fill="#b5b5b5" opacity="0.8"/><circle cx="119.5" cy="795.8" r="17.3" fill="url(#gO)"/><circle cx="121.9" cy="793.2" r="1.6" fill="#ff8a8a" opacity="0.8"/><circle cx="179.2" cy="810.5" r="19.1" fill="url(#gC)"/><circle cx="181.6" cy="807.9" r="1.6" fill="#b5b5b5" opacity="0.8"/><circle cx="296.1" cy="810.6" r="19.1" fill="url(#gC)"/><circle cx="298.5" cy="808.0" r="1.6" fill="#b5b5b5" opacity="0.8"/><circle cx="358.5" cy="793.7" r="17.3" fill="url(#gO)"/><circle cx="360.9" cy="791.1" r="1.6" fill="#ff8a8a" opacity="0.8"/><circle cx="366.2" cy="743.8" r="12.9" fill="url(#gH)"/><circle cx="368.6" cy="741.2" r="1.6" fill="#ffffff" opacity="0.8"/><circle cx="202.5" cy="881.9" r="19.1" fill="url(#gC)"/><circle cx="204.9" cy="879.3" r="1.6" fill="#b5b5b5" opacity="0.8"/><circle cx="275.3" cy="877.9" r="19.1" fill="url(#gC)"/><circle cx="277.7" cy="875.3" r="1.6" fill="#b5b5b5" opacity="0.8"/><circle cx="169.7" cy="933.1" r="17.3" fill="url(#gO)"/><circle cx="172.1" cy="930.5" r="1.6" fill="#ff8a8a" opacity="0.8"/><circle cx="311.7" cy="931.4" r="17.3" fill="url(#gO)"/><circle cx="314.1" cy="928.8" r="1.6" fill="#ff8a8a" opacity="0.8"/><circle cx="361.2" cy="922.3" r="12.9" fill="url(#gH)"/><circle cx="363.6" cy="919.7" r="1.6" fill="#ffffff" opacity="0.8"/></g><g fill="none"><path d="M237.4 766.7L233.5 714.1" stroke="#ffb900" stroke-width="5.0"/><path d="M232.8 704.8L239.7 715.1L227.5 716.0z" fill="#ffb900"/><path d="M239.0 704.8L240.9 727.5" stroke="#ffb900" stroke-width="5.0"/><path d="M241.7 736.7L234.7 726.5L246.9 725.5z" fill="#ffb900"/><path d="M123.0 799.4L96.4 788.4" stroke="#ffb900" stroke-width="5.0"/><path d="M87.8 784.9L100.1 783.3L95.4 794.6z" fill="#ffb900"/><path d="M166.0 808.5L221.4 823.6" stroke="#ffb900" stroke-width="5.0"/><path d="M230.3 826.1L218.3 829.1L221.5 817.4z" fill="#ffb900"/><path d="M203.1 881.3L189.6 891.4" stroke="#ffb900" stroke-width="5.0"/><path d="M182.2 897.1L187.2 885.7L194.5 895.4z" fill="#ffb900"/></g>
<g fill="none" stroke-linecap="butt"><path d="M628.6 767.3L628.9 737.3" stroke="#808080" stroke-width="14.0"/><path d="M626.6 767.3L626.9 737.3" stroke="#939393" stroke-width="3.2" opacity="0.55"/><path d="M634.7 767.4L635.0 737.4" stroke="#6c6c6c" stroke-width="1.8" opacity="0.6"/><path d="M628.9 737.3L629.2 705.8" stroke="#f20c0c" stroke-width="14.0"/><path d="M626.9 737.3L627.2 705.8" stroke="#ff3a3a" stroke-width="3.2" opacity="0.55"/><path d="M635.0 737.4L635.3 705.9" stroke="#d00000" stroke-width="1.8" opacity="0.6"/><path d="M628.6 767.3L569.5 811.5" stroke="#808080" stroke-width="14.0"/><path d="M627.4 765.7L568.3 809.9" stroke="#939393" stroke-width="3.2" opacity="0.55"/><path d="M632.3 772.2L573.2 816.4" stroke="#6c6c6c" stroke-width="1.8" opacity="0.6"/><path d="M628.6 767.3L686.4 811.6" stroke="#808080" stroke-width="14.0"/><path d="M629.8 765.7L687.6 810.0" stroke="#939393" stroke-width="3.2" opacity="0.55"/><path d="M624.9 772.1L682.7 816.4" stroke="#6c6c6c" stroke-width="1.8" opacity="0.6"/><path d="M569.5 811.5L540.4 804.3" stroke="#808080" stroke-width="14.0"/><path d="M570.0 809.6L540.9 802.4" stroke="#939393" stroke-width="3.2" opacity="0.55"/><path d="M568.0 817.4L539.0 810.3" stroke="#6c6c6c" stroke-width="1.8" opacity="0.6"/><path d="M540.4 804.3L509.8 796.8" stroke="#f20c0c" stroke-width="14.0"/><path d="M540.9 802.4L510.3 794.9" stroke="#ff3a3a" stroke-width="3.2" opacity="0.55"/><path d="M539.0 810.3L508.3 802.7" stroke="#d00000" stroke-width="1.8" opacity="0.6"/><path d="M569.5 811.5L592.8 882.9" stroke="#808080" stroke-width="14.0"/><path d="M571.4 810.9L594.7 882.3" stroke="#939393" stroke-width="3.2" opacity="0.55"/><path d="M563.7 813.4L587.0 884.8" stroke="#6c6c6c" stroke-width="1.8" opacity="0.6"/><path d="M686.4 811.6L716.8 803.4" stroke="#808080" stroke-width="14.0"/><path d="M685.9 809.7L716.3 801.4" stroke="#939393" stroke-width="3.2" opacity="0.55"/><path d="M688.0 817.5L718.4 809.2" stroke="#6c6c6c" stroke-width="1.8" opacity="0.6"/><path d="M716.8 803.4L748.8 794.7" stroke="#f20c0c" stroke-width="14.0"/><path d="M716.3 801.4L748.3 792.8" stroke="#ff3a3a" stroke-width="3.2" opacity="0.55"/><path d="M718.4 809.2L750.4 800.6" stroke="#d00000" stroke-width="1.8" opacity="0.6"/><path d="M686.4 811.6L665.6 878.9" stroke="#808080" stroke-width="14.0"/><path d="M684.5 811.0L663.7 878.3" stroke="#939393" stroke-width="3.2" opacity="0.55"/><path d="M692.2 813.4L671.4 880.7" stroke="#6c6c6c" stroke-width="1.8" opacity="0.6"/><path d="M592.8 882.9L665.6 878.9" stroke="#808080" stroke-width="14.0"/><path d="M592.7 880.9L665.5 876.9" stroke="#939393" stroke-width="3.2" opacity="0.55"/><path d="M593.1 889.0L665.9 885.0" stroke="#6c6c6c" stroke-width="1.8" opacity="0.6"/><path d="M592.8 882.9L576.8 907.8" stroke="#808080" stroke-width="14.0"/><path d="M591.1 881.8L575.1 906.7" stroke="#939393" stroke-width="3.2" opacity="0.55"/><path d="M597.9 886.2L582.0 911.1" stroke="#6c6c6c" stroke-width="1.8" opacity="0.6"/><path d="M576.8 907.8L560.0 934.1" stroke="#f20c0c" stroke-width="14.0"/><path d="M575.1 906.7L558.3 933.0" stroke="#ff3a3a" stroke-width="3.2" opacity="0.55"/><path d="M582.0 911.1L565.1 937.4" stroke="#d00000" stroke-width="1.8" opacity="0.6"/><path d="M665.6 878.9L683.3 905.0" stroke="#808080" stroke-width="14.0"/><path d="M667.3 877.8L685.0 903.9" stroke="#939393" stroke-width="3.2" opacity="0.55"/><path d="M660.6 882.3L678.3 908.4" stroke="#6c6c6c" stroke-width="1.8" opacity="0.6"/><path d="M683.3 905.0L702.0 932.4" stroke="#f20c0c" stroke-width="14.0"/><path d="M685.0 903.9L703.7 931.3" stroke="#ff3a3a" stroke-width="3.2" opacity="0.55"/><path d="M678.3 908.4L697.0 935.8" stroke="#d00000" stroke-width="1.8" opacity="0.6"/><path d="M748.8 794.7L752.6 769.8" stroke="#f20c0c" stroke-width="14.4"/><path d="M746.8 794.4L750.7 769.4" stroke="#ff3a3a" stroke-width="3.2" opacity="0.55"/><path d="M755.0 795.7L758.9 770.7" stroke="#d00000" stroke-width="1.8" opacity="0.6"/><path d="M752.6 769.8L756.5 744.8" stroke="#ebebeb" stroke-width="14.4"/><path d="M750.7 769.4L754.5 744.5" stroke="#fbfbfb" stroke-width="3.2" opacity="0.55"/><path d="M758.9 770.7L762.7 745.8" stroke="#d2d2d2" stroke-width="1.8" opacity="0.6"/><path d="M702.0 932.4L726.8 927.8" stroke="#f20c0c" stroke-width="14.4"/><path d="M701.6 930.4L726.4 925.9" stroke="#ff3a3a" stroke-width="3.2" opacity="0.55"/><path d="M703.1 938.6L727.9 934.0" stroke="#d00000" stroke-width="1.8" opacity="0.6"/><path d="M726.8 927.8L751.5 923.3" stroke="#ebebeb" stroke-width="14.4"/><path d="M726.4 925.9L751.1 921.3" stroke="#fbfbfb" stroke-width="3.2" opacity="0.55"/><path d="M727.9 934.0L752.6 929.5" stroke="#d2d2d2" stroke-width="1.8" opacity="0.6"/></g><g><circle cx="629.2" cy="705.8" r="17.3" fill="url(#gO)"/><circle cx="631.6" cy="703.2" r="1.6" fill="#ff8a8a" opacity="0.8"/><circle cx="628.6" cy="767.3" r="19.1" fill="url(#gC)"/><circle cx="631.0" cy="764.7" r="1.6" fill="#b5b5b5" opacity="0.8"/><circle cx="509.8" cy="796.8" r="17.3" fill="url(#gO)"/><circle cx="512.2" cy="794.2" r="1.6" fill="#ff8a8a" opacity="0.8"/><circle cx="569.5" cy="811.5" r="19.1" fill="url(#gC)"/><circle cx="571.9" cy="808.9" r="1.6" fill="#b5b5b5" opacity="0.8"/><circle cx="686.4" cy="811.6" r="19.1" fill="url(#gC)"/><circle cx="688.8" cy="809.0" r="1.6" fill="#b5b5b5" opacity="0.8"/><circle cx="748.8" cy="794.7" r="17.3" fill="url(#gO)"/><circle cx="751.2" cy="792.1" r="1.6" fill="#ff8a8a" opacity="0.8"/><circle cx="756.5" cy="744.8" r="12.9" fill="url(#gH)"/><circle cx="758.9" cy="742.2" r="1.6" fill="#ffffff" opacity="0.8"/><circle cx="592.8" cy="882.9" r="19.1" fill="url(#gC)"/><circle cx="595.2" cy="880.3" r="1.6" fill="#b5b5b5" opacity="0.8"/><circle cx="665.6" cy="878.9" r="19.1" fill="url(#gC)"/><circle cx="668.0" cy="876.3" r="1.6" fill="#b5b5b5" opacity="0.8"/><circle cx="560.0" cy="934.1" r="17.3" fill="url(#gO)"/><circle cx="562.4" cy="931.5" r="1.6" fill="#ff8a8a" opacity="0.8"/><circle cx="702.0" cy="932.4" r="17.3" fill="url(#gO)"/><circle cx="704.4" cy="929.8" r="1.6" fill="#ff8a8a" opacity="0.8"/><circle cx="751.5" cy="923.3" r="12.9" fill="url(#gH)"/><circle cx="753.9" cy="920.7" r="1.6" fill="#ffffff" opacity="0.8"/></g><g fill="none"><path d="M629.9 706.9L629.9 683.0" stroke="#ffb900" stroke-width="5.0"/><path d="M629.9 673.8L636.0 684.5L623.8 684.5z" fill="#ffb900"/><path d="M627.4 766.2L631.1 812.5" stroke="#ffb900" stroke-width="5.0"/><path d="M631.9 821.8L624.9 811.5L637.1 810.5z" fill="#ffb900"/><path d="M507.5 797.5L486.6 790.4" stroke="#ffb900" stroke-width="5.0"/><path d="M477.8 787.4L490.0 785.1L486.1 796.6z" fill="#ffb900"/><path d="M567.2 811.2L609.1 828.7" stroke="#ffb900" stroke-width="5.0"/><path d="M617.7 832.3L605.4 833.8L610.1 822.5z" fill="#ffb900"/><path d="M687.5 811.2L664.3 826.7" stroke="#ffb900" stroke-width="5.0"/><path d="M656.5 831.9L662.1 820.8L668.9 831.0z" fill="#ffb900"/><path d="M595.1 881.9L612.7 857.7" stroke="#ffb900" stroke-width="5.0"/><path d="M618.1 850.1L616.7 862.5L606.8 855.3z" fill="#ffb900"/><path d="M663.8 876.4L652.8 857.6" stroke="#ffb900" stroke-width="5.0"/><path d="M648.1 849.5L658.8 855.8L648.3 861.9z" fill="#ffb900"/><path d="M559.5 937.5L552.1 948.4" stroke="#ffb900" stroke-width="5.0"/><path d="M546.9 956.1L547.9 943.7L558.0 950.6z" fill="#ffb900"/></g>
<g fill="none" stroke-linecap="butt"><path d="M1027.6 767.1L1027.8 737.7" stroke="#808080" stroke-width="14.0"/><path d="M1025.6 767.1L1025.8 737.7" stroke="#939393" stroke-width="3.2" opacity="0.55"/><path d="M1033.7 767.2L1033.9 737.8" stroke="#6c6c6c" stroke-width="1.8" opacity="0.6"/><path d="M1027.8 737.7L1028.1 706.8" stroke="#f20c0c" stroke-width="14.0"/><path d="M1025.8 737.7L1026.1 706.7" stroke="#ff3a3a" stroke-width="3.2" opacity="0.55"/><path d="M1033.9 737.8L1034.2 706.8" stroke="#d00000" stroke-width="1.8" opacity="0.6"/><path d="M1027.6 767.1L967.3 809.8" stroke="#808080" stroke-width="14.0"/><path d="M1026.4 765.5L966.1 808.2" stroke="#939393" stroke-width="3.2" opacity="0.55"/><path d="M1031.1 772.1L970.8 814.8" stroke="#6c6c6c" stroke-width="1.8" opacity="0.6"/><path d="M1027.6 767.1L1083.8 813.1" stroke="#808080" stroke-width="14.0"/><path d="M1028.9 765.6L1085.1 811.6" stroke="#939393" stroke-width="3.2" opacity="0.55"/><path d="M1023.7 771.9L1079.9 817.9" stroke="#6c6c6c" stroke-width="1.8" opacity="0.6"/><path d="M967.3 809.8L938.6 802.1" stroke="#808080" stroke-width="14.0"/><path d="M967.8 807.9L939.1 800.2" stroke="#939393" stroke-width="3.2" opacity="0.55"/><path d="M965.7 815.7L937.0 808.0" stroke="#6c6c6c" stroke-width="1.8" opacity="0.6"/><path d="M938.6 802.1L908.4 793.9" stroke="#f20c0c" stroke-width="14.0"/><path d="M939.1 800.2L908.9 792.0" stroke="#ff3a3a" stroke-width="3.2" opacity="0.55"/><path d="M937.0 808.0L906.8 799.8" stroke="#d00000" stroke-width="1.8" opacity="0.6"/><path d="M967.3 809.8L991.0 880.8" stroke="#808080" stroke-width="14.0"/><path d="M969.2 809.2L992.9 880.2" stroke="#939393" stroke-width="3.2" opacity="0.55"/><path d="M961.5 811.8L985.3 882.8" stroke="#6c6c6c" stroke-width="1.8" opacity="0.6"/><path d="M1083.8 813.1L1114.5 805.2" stroke="#808080" stroke-width="14.0"/><path d="M1083.3 811.2L1114.0 803.2" stroke="#939393" stroke-width="3.2" opacity="0.55"/><path d="M1085.3 819.1L1116.0 811.1" stroke="#6c6c6c" stroke-width="1.8" opacity="0.6"/><path d="M1114.5 805.2L1146.8 796.8" stroke="#f20c0c" stroke-width="14.0"/><path d="M1114.0 803.2L1146.2 794.9" stroke="#ff3a3a" stroke-width="3.2" opacity="0.55"/><path d="M1116.0 811.1L1148.3 802.7" stroke="#d00000" stroke-width="1.8" opacity="0.6"/><path d="M1083.8 813.1L1063.5 878.3" stroke="#808080" stroke-width="14.0"/><path d="M1081.9 812.6L1061.6 877.7" stroke="#939393" stroke-width="3.2" opacity="0.55"/><path d="M1089.6 815.0L1069.4 880.1" stroke="#6c6c6c" stroke-width="1.8" opacity="0.6"/><path d="M991.0 880.8L1063.5 878.3" stroke="#808080" stroke-width="14.0"/><path d="M991.0 878.9L1063.5 876.3" stroke="#939393" stroke-width="3.2" opacity="0.55"/><path d="M991.3 886.9L1063.8 884.4" stroke="#6c6c6c" stroke-width="1.8" opacity="0.6"/><path d="M991.0 880.8L974.3 904.9" stroke="#808080" stroke-width="14.0"/><path d="M989.4 879.7L972.6 903.8" stroke="#939393" stroke-width="3.2" opacity="0.55"/><path d="M996.1 884.3L979.3 908.4" stroke="#6c6c6c" stroke-width="1.8" opacity="0.6"/><path d="M974.3 904.9L956.6 930.3" stroke="#f20c0c" stroke-width="14.0"/><path d="M972.6 903.8L955.0 929.2" stroke="#ff3a3a" stroke-width="3.2" opacity="0.55"/><path d="M979.3 908.4L961.6 933.8" stroke="#d00000" stroke-width="1.8" opacity="0.6"/><path d="M1063.5 878.3L1080.9 904.1" stroke="#808080" stroke-width="14.0"/><path d="M1065.2 877.2L1082.5 903.0" stroke="#939393" stroke-width="3.2" opacity="0.55"/><path d="M1058.5 881.7L1075.8 907.5" stroke="#6c6c6c" stroke-width="1.8" opacity="0.6"/><path d="M1080.9 904.1L1099.0 931.2" stroke="#f20c0c" stroke-width="14.0"/><path d="M1082.5 903.0L1100.7 930.1" stroke="#ff3a3a" stroke-width="3.2" opacity="0.55"/><path d="M1075.8 907.5L1094.0 934.6" stroke="#d00000" stroke-width="1.8" opacity="0.6"/><path d="M1146.8 796.8L1151.0 772.2" stroke="#f20c0c" stroke-width="14.4"/><path d="M1144.8 796.5L1149.0 771.9" stroke="#ff3a3a" stroke-width="3.2" opacity="0.55"/><path d="M1153.0 797.9L1157.2 773.3" stroke="#d00000" stroke-width="1.8" opacity="0.6"/><path d="M1151.0 772.2L1155.2 747.7" stroke="#ebebeb" stroke-width="14.4"/><path d="M1149.0 771.9L1153.2 747.4" stroke="#fbfbfb" stroke-width="3.2" opacity="0.55"/><path d="M1157.2 773.3L1161.4 748.8" stroke="#d2d2d2" stroke-width="1.8" opacity="0.6"/><path d="M1099.0 931.2L1123.3 927.8" stroke="#f20c0c" stroke-width="14.4"/><path d="M1098.8 929.2L1123.1 925.9" stroke="#ff3a3a" stroke-width="3.2" opacity="0.55"/><path d="M1099.9 937.4L1124.2 934.1" stroke="#d00000" stroke-width="1.8" opacity="0.6"/><path d="M1123.3 927.8L1147.6 924.5" stroke="#ebebeb" stroke-width="14.4"/><path d="M1123.1 925.9L1147.3 922.5" stroke="#fbfbfb" stroke-width="3.2" opacity="0.55"/><path d="M1124.2 934.1L1148.5 930.7" stroke="#d2d2d2" stroke-width="1.8" opacity="0.6"/></g><g><circle cx="1028.1" cy="706.8" r="17.3" fill="url(#gO)"/><circle cx="1030.5" cy="704.1" r="1.6" fill="#ff8a8a" opacity="0.8"/><circle cx="1027.6" cy="767.1" r="19.1" fill="url(#gC)"/><circle cx="1030.0" cy="764.5" r="1.6" fill="#b5b5b5" opacity="0.8"/><circle cx="908.4" cy="793.9" r="17.3" fill="url(#gO)"/><circle cx="910.8" cy="791.3" r="1.6" fill="#ff8a8a" opacity="0.8"/><circle cx="967.3" cy="809.8" r="19.1" fill="url(#gC)"/><circle cx="969.7" cy="807.2" r="1.6" fill="#b5b5b5" opacity="0.8"/><circle cx="1083.8" cy="813.1" r="19.1" fill="url(#gC)"/><circle cx="1086.2" cy="810.5" r="1.6" fill="#b5b5b5" opacity="0.8"/><circle cx="1146.8" cy="796.8" r="17.3" fill="url(#gO)"/><circle cx="1149.2" cy="794.2" r="1.6" fill="#ff8a8a" opacity="0.8"/><circle cx="1155.2" cy="747.7" r="12.9" fill="url(#gH)"/><circle cx="1157.6" cy="745.1" r="1.6" fill="#ffffff" opacity="0.8"/><circle cx="991.0" cy="880.8" r="19.1" fill="url(#gC)"/><circle cx="993.4" cy="878.2" r="1.6" fill="#b5b5b5" opacity="0.8"/><circle cx="1063.5" cy="878.3" r="19.1" fill="url(#gC)"/><circle cx="1066.0" cy="875.7" r="1.6" fill="#b5b5b5" opacity="0.8"/><circle cx="956.6" cy="930.3" r="17.3" fill="url(#gO)"/><circle cx="959.0" cy="927.7" r="1.6" fill="#ff8a8a" opacity="0.8"/><circle cx="1099.0" cy="931.2" r="17.3" fill="url(#gO)"/><circle cx="1101.5" cy="928.6" r="1.6" fill="#ff8a8a" opacity="0.8"/><circle cx="1147.6" cy="924.5" r="12.9" fill="url(#gH)"/><circle cx="1150.0" cy="921.9" r="1.6" fill="#ffffff" opacity="0.8"/></g><g fill="none"><path d="M1148.6 923.5L1205.7 911.6" stroke="#ffb900" stroke-width="4.6"/><path d="M1216.5 909.4L1205.5 918.1L1203.0 905.8z" fill="#ffb900"/></g>
<g fill="none" stroke-linecap="butt"><path d="M1431.0 768.1L1431.2 738.6" stroke="#808080" stroke-width="14.0"/><path d="M1429.0 768.0L1429.2 738.6" stroke="#939393" stroke-width="3.2" opacity="0.55"/><path d="M1437.1 768.1L1437.3 738.7" stroke="#6c6c6c" stroke-width="1.8" opacity="0.6"/><path d="M1431.2 738.6L1431.5 707.7" stroke="#f20c0c" stroke-width="14.0"/><path d="M1429.2 738.6L1429.5 707.6" stroke="#ff3a3a" stroke-width="3.2" opacity="0.55"/><path d="M1437.3 738.7L1437.6 707.7" stroke="#d00000" stroke-width="1.8" opacity="0.6"/><path d="M1431.0 768.1L1370.7 810.8" stroke="#808080" stroke-width="14.0"/><path d="M1429.8 766.4L1369.5 809.1" stroke="#939393" stroke-width="3.2" opacity="0.55"/><path d="M1434.5 773.0L1374.2 815.7" stroke="#6c6c6c" stroke-width="1.8" opacity="0.6"/><path d="M1431.0 768.1L1487.2 814.1" stroke="#808080" stroke-width="14.0"/><path d="M1432.3 766.5L1488.5 812.5" stroke="#939393" stroke-width="3.2" opacity="0.55"/><path d="M1427.1 772.8L1483.3 818.8" stroke="#6c6c6c" stroke-width="1.8" opacity="0.6"/><path d="M1370.7 810.8L1342.0 803.0" stroke="#808080" stroke-width="14.0"/><path d="M1371.2 808.8L1342.5 801.1" stroke="#939393" stroke-width="3.2" opacity="0.55"/><path d="M1369.1 816.6L1340.4 808.9" stroke="#6c6c6c" stroke-width="1.8" opacity="0.6"/><path d="M1342.0 803.0L1311.8 794.8" stroke="#f20c0c" stroke-width="14.0"/><path d="M1342.5 801.1L1312.3 792.9" stroke="#ff3a3a" stroke-width="3.2" opacity="0.55"/><path d="M1340.4 808.9L1310.2 800.7" stroke="#d00000" stroke-width="1.8" opacity="0.6"/><path d="M1370.7 810.8L1394.4 881.8" stroke="#808080" stroke-width="14.0"/><path d="M1372.6 810.1L1396.3 881.1" stroke="#939393" stroke-width="3.2" opacity="0.55"/><path d="M1364.9 812.7L1388.7 883.7" stroke="#6c6c6c" stroke-width="1.8" opacity="0.6"/><path d="M1487.2 814.1L1517.9 806.1" stroke="#808080" stroke-width="14.0"/><path d="M1486.7 812.1L1517.4 804.1" stroke="#939393" stroke-width="3.2" opacity="0.55"/><path d="M1488.7 820.0L1519.4 812.0" stroke="#6c6c6c" stroke-width="1.8" opacity="0.6"/><path d="M1517.9 806.1L1550.2 797.7" stroke="#f20c0c" stroke-width="14.0"/><path d="M1517.4 804.1L1549.6 795.8" stroke="#ff3a3a" stroke-width="3.2" opacity="0.55"/><path d="M1519.4 812.0L1551.7 803.6" stroke="#d00000" stroke-width="1.8" opacity="0.6"/><path d="M1487.2 814.1L1466.9 879.2" stroke="#808080" stroke-width="14.0"/><path d="M1485.3 813.5L1465.0 878.6" stroke="#939393" stroke-width="3.2" opacity="0.55"/><path d="M1493.0 815.9L1472.8 881.0" stroke="#6c6c6c" stroke-width="1.8" opacity="0.6"/><path d="M1394.4 881.8L1466.9 879.2" stroke="#808080" stroke-width="14.0"/><path d="M1394.4 879.8L1466.9 877.2" stroke="#939393" stroke-width="3.2" opacity="0.55"/><path d="M1394.7 887.8L1467.2 885.3" stroke="#6c6c6c" stroke-width="1.8" opacity="0.6"/><path d="M1394.4 881.8L1377.7 905.8" stroke="#808080" stroke-width="14.0"/><path d="M1392.8 880.6L1376.0 904.7" stroke="#939393" stroke-width="3.2" opacity="0.55"/><path d="M1399.5 885.2L1382.7 909.3" stroke="#6c6c6c" stroke-width="1.8" opacity="0.6"/><path d="M1377.7 905.8L1360.0 931.2" stroke="#f20c0c" stroke-width="14.0"/><path d="M1376.0 904.7L1358.4 930.1" stroke="#ff3a3a" stroke-width="3.2" opacity="0.55"/><path d="M1382.7 909.3L1365.0 934.7" stroke="#d00000" stroke-width="1.8" opacity="0.6"/><path d="M1466.9 879.2L1484.3 905.0" stroke="#808080" stroke-width="14.0"/><path d="M1468.6 878.1L1485.9 903.9" stroke="#939393" stroke-width="3.2" opacity="0.55"/><path d="M1461.9 882.6L1479.2 908.4" stroke="#6c6c6c" stroke-width="1.8" opacity="0.6"/><path d="M1484.3 905.0L1502.4 932.1" stroke="#f20c0c" stroke-width="14.0"/><path d="M1485.9 903.9L1504.1 931.0" stroke="#ff3a3a" stroke-width="3.2" opacity="0.55"/><path d="M1479.2 908.4L1497.4 935.5" stroke="#d00000" stroke-width="1.8" opacity="0.6"/><path d="M1550.2 797.7L1554.4 773.2" stroke="#f20c0c" stroke-width="14.4"/><path d="M1548.2 797.4L1552.4 772.8" stroke="#ff3a3a" stroke-width="3.2" opacity="0.55"/><path d="M1556.4 798.8L1560.6 774.2" stroke="#d00000" stroke-width="1.8" opacity="0.6"/><path d="M1554.4 773.2L1558.6 748.6" stroke="#ebebeb" stroke-width="14.4"/><path d="M1552.4 772.8L1556.6 748.3" stroke="#fbfbfb" stroke-width="3.2" opacity="0.55"/><path d="M1560.6 774.2L1564.8 749.7" stroke="#d2d2d2" stroke-width="1.8" opacity="0.6"/><path d="M1502.4 932.1L1526.7 928.8" stroke="#f20c0c" stroke-width="14.4"/><path d="M1502.2 930.1L1526.5 926.8" stroke="#ff3a3a" stroke-width="3.2" opacity="0.55"/><path d="M1503.3 938.3L1527.6 935.0" stroke="#d00000" stroke-width="1.8" opacity="0.6"/><path d="M1526.7 928.8L1551.0 925.4" stroke="#ebebeb" stroke-width="14.4"/><path d="M1526.5 926.8L1550.7 923.4" stroke="#fbfbfb" stroke-width="3.2" opacity="0.55"/><path d="M1527.6 935.0L1551.9 931.6" stroke="#d2d2d2" stroke-width="1.8" opacity="0.6"/></g><g><circle cx="1431.5" cy="707.7" r="17.3" fill="url(#gO)"/><circle cx="1433.9" cy="705.1" r="1.6" fill="#ff8a8a" opacity="0.8"/><circle cx="1431.0" cy="768.1" r="19.1" fill="url(#gC)"/><circle cx="1433.4" cy="765.5" r="1.6" fill="#b5b5b5" opacity="0.8"/><circle cx="1311.8" cy="794.8" r="17.3" fill="url(#gO)"/><circle cx="1314.2" cy="792.2" r="1.6" fill="#ff8a8a" opacity="0.8"/><circle cx="1370.7" cy="810.8" r="19.1" fill="url(#gC)"/><circle cx="1373.1" cy="808.1" r="1.6" fill="#b5b5b5" opacity="0.8"/><circle cx="1487.2" cy="814.1" r="19.1" fill="url(#gC)"/><circle cx="1489.6" cy="811.5" r="1.6" fill="#b5b5b5" opacity="0.8"/><circle cx="1550.2" cy="797.7" r="17.3" fill="url(#gO)"/><circle cx="1552.6" cy="795.1" r="1.6" fill="#ff8a8a" opacity="0.8"/><circle cx="1558.6" cy="748.6" r="12.9" fill="url(#gH)"/><circle cx="1561.0" cy="746.0" r="1.6" fill="#ffffff" opacity="0.8"/><circle cx="1394.4" cy="881.8" r="19.1" fill="url(#gC)"/><circle cx="1396.8" cy="879.1" r="1.6" fill="#b5b5b5" opacity="0.8"/><circle cx="1466.9" cy="879.2" r="19.1" fill="url(#gC)"/><circle cx="1469.3" cy="876.6" r="1.6" fill="#b5b5b5" opacity="0.8"/><circle cx="1360.0" cy="931.2" r="17.3" fill="url(#gO)"/><circle cx="1362.4" cy="928.6" r="1.6" fill="#ff8a8a" opacity="0.8"/><circle cx="1502.4" cy="932.1" r="17.3" fill="url(#gO)"/><circle cx="1504.8" cy="929.5" r="1.6" fill="#ff8a8a" opacity="0.8"/><circle cx="1551.0" cy="925.4" r="12.9" fill="url(#gH)"/><circle cx="1553.4" cy="922.8" r="1.6" fill="#ffffff" opacity="0.8"/></g><g fill="none"><path d="M1557.4 747.7L1565.8 689.3" stroke="#ffb900" stroke-width="4.6"/><path d="M1567.4 678.4L1571.8 691.7L1559.4 689.9z" fill="#ffb900"/></g>
<text transform="translate(44.3,707.2) scale(1.043,1)" font-size="27.2" fill="#006400">i : 1719 cm<tspan font-size="16.2" dy="-10">-1</tspan></text>
<text transform="translate(433.5,707.2) scale(1.043,1)" font-size="27.2" fill="#006400">ii : 1750 cm<tspan font-size="16.2" dy="-10">-1</tspan></text>
<text transform="translate(829.5,707.2) scale(1.043,1)" font-size="27.2" fill="#006400">iii : 2841 cm<tspan font-size="16.2" dy="-10">-1</tspan></text>
<text transform="translate(1231.5,707.2) scale(1.043,1)" font-size="27.2" fill="#006400">iv : 2915 cm<tspan font-size="16.2" dy="-10">-1</tspan></text>
<text x="104" y="985.7" font-size="26.1"><tspan font-style="italic">c</tspan> axis</text>
<path d="M261.2 985H202M213.2 978.3L201.6 985L213.2 991.7" fill="none" stroke="#222" stroke-width="1.1"/>
</svg>
</body></html>
